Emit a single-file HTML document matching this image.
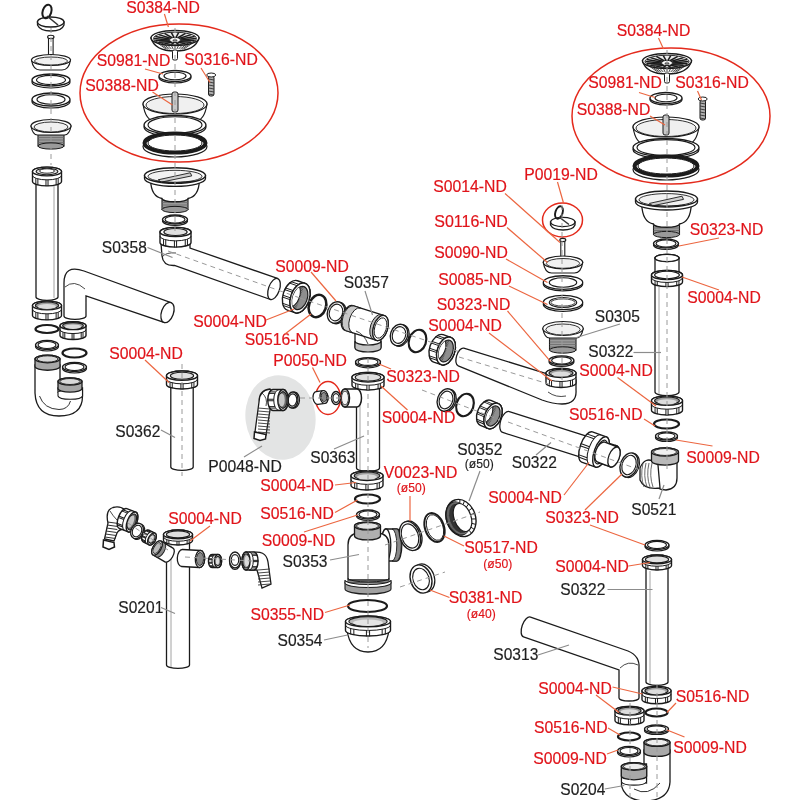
<!DOCTYPE html>
<html><head><meta charset="utf-8"><style>
html,body{margin:0;padding:0;background:#fff;}
svg{display:block;font-family:"Liberation Sans",sans-serif;will-change:transform;}
</style></head><body>
<svg width="800" height="800" viewBox="0 0 800 800">
<rect width="800" height="800" fill="#fff"/>
<ellipse cx="280.5" cy="417.5" rx="35" ry="42.5" fill="#e3e4e4" transform="rotate(-8 280.5 417.5)"/>
<path d="M37.5,22 L37.5,25 Q40,31 51,31 Q62,31 64,25 L64,22 Z" fill="#fff" stroke="#1b1b1b" stroke-width="1.3"/>
<ellipse cx="50.7" cy="22" rx="13.3" ry="5" fill="#fff" stroke="#1b1b1b" stroke-width="1.3"/>
<ellipse cx="47" cy="11.5" rx="4.3" ry="7" fill="none" stroke="#1b1b1b" stroke-width="2" transform="rotate(18 47 11.5)"/>
<line x1="47" y1="16" x2="58" y2="25" stroke="#333" stroke-width="1.6"/>
<rect x="48.5" y="37" width="4.6" height="24" fill="#fff" stroke="#1b1b1b" stroke-width="1.1"/>
<ellipse cx="50.8" cy="37" rx="3.2" ry="1.7" fill="#fff" stroke="#1b1b1b" stroke-width="1.1"/>
<path d="M31.5,60 Q33.06,70 40,70 L62,70 Q68.94,70 70.5,60 Z" fill="#fff" stroke="#1b1b1b" stroke-width="1.2"/>
<ellipse cx="51" cy="60" rx="19.5" ry="5.5" fill="#fff" stroke="#1b1b1b" stroke-width="1.2"/>
<ellipse cx="51" cy="61" rx="16.5" ry="4" fill="#f0f0f0" stroke="#1b1b1b" stroke-width="0.9"/>
<ellipse cx="51" cy="82" rx="19" ry="6" fill="#fff" stroke="#1b1b1b" stroke-width="1.215"/>
<ellipse cx="51" cy="80" rx="19" ry="6" fill="#fff" stroke="#1b1b1b" stroke-width="1.35"/>
<ellipse cx="51" cy="80" rx="14.5" ry="4.58" fill="#fff" stroke="#1b1b1b" stroke-width="1.1475"/>
<ellipse cx="51" cy="101.5" rx="19" ry="6.5" fill="#fff" stroke="#1b1b1b" stroke-width="1.215"/>
<ellipse cx="51" cy="99.5" rx="19" ry="6.5" fill="#fff" stroke="#1b1b1b" stroke-width="1.35"/>
<ellipse cx="51" cy="99.5" rx="14" ry="4.79" fill="#fff" stroke="#1b1b1b" stroke-width="1.1475"/>
<rect x="38" y="130" width="26" height="16" fill="#9a9a9a" stroke="#1b1b1b" stroke-width="1.1"/>
<line x1="38" y1="132.5" x2="64" y2="132.5" stroke="#666" stroke-width="0.7"/>
<line x1="38" y1="135" x2="64" y2="135" stroke="#666" stroke-width="0.7"/>
<line x1="38" y1="137.5" x2="64" y2="137.5" stroke="#666" stroke-width="0.7"/>
<line x1="38" y1="140" x2="64" y2="140" stroke="#666" stroke-width="0.7"/>
<line x1="38" y1="142.5" x2="64" y2="142.5" stroke="#666" stroke-width="0.7"/>
<line x1="38" y1="145" x2="64" y2="145" stroke="#666" stroke-width="0.7"/>
<ellipse cx="51" cy="146" rx="13" ry="3.12" fill="#9a9a9a" stroke="#1b1b1b" stroke-width="1"/>
<path d="M31,126 Q32.6,135 37.5,135 L64.5,135 Q69.4,135 71,126 Z" fill="#fff" stroke="#1b1b1b" stroke-width="1.2"/>
<ellipse cx="51" cy="126" rx="20" ry="6.5" fill="#fff" stroke="#1b1b1b" stroke-width="1.2"/>
<ellipse cx="51" cy="127" rx="17" ry="5" fill="#f0f0f0" stroke="#1b1b1b" stroke-width="0.9"/>
<g transform="translate(47 172) rotate(90)"><path d="M0,-11 L125,-11 A3.3,11 0 0 1 125,11 L0,11 A3.3,11 0 0 1 0,-11 Z" fill="#fff" stroke="#1b1b1b" stroke-width="1.3"/><ellipse cx="0" cy="0" rx="3.3" ry="11" fill="#fff" stroke="#1b1b1b" stroke-width="1.3"/></g>
<line x1="54" y1="186" x2="54" y2="298" stroke="#8a8a8a" stroke-width="0.8"/>
<g transform="translate(47 171.5) rotate(90)"><path d="M0,-14.5 L10,-14.5 A4.35,14.5 0 0 1 10,14.5 L0,14.5 A4.35,14.5 0 0 1 0,-14.5 Z" fill="#fff" stroke="#1b1b1b" stroke-width="1.4"/><path d="M4,-14.5 A4.35,14.5 0 0 1 4,14.5" fill="none" stroke="#1b1b1b" stroke-width="1"/><line x1="6.78" y1="-11.17" x2="13.08" y2="-11.17" stroke="#1b1b1b" stroke-width="1"/><line x1="7.38" y1="-9.13" x2="13.68" y2="-9.13" stroke="#1b1b1b" stroke-width="1"/><line x1="8.34" y1="-1.02" x2="14.64" y2="-1.02" stroke="#1b1b1b" stroke-width="1"/><line x1="8.34" y1="1.02" x2="14.64" y2="1.02" stroke="#1b1b1b" stroke-width="1"/><line x1="7.38" y1="9.13" x2="13.68" y2="9.13" stroke="#1b1b1b" stroke-width="1"/><line x1="6.78" y1="11.17" x2="13.08" y2="11.17" stroke="#1b1b1b" stroke-width="1"/><ellipse cx="0" cy="0" rx="4.35" ry="14.5" fill="#fff" stroke="#1b1b1b" stroke-width="1.4"/><ellipse cx="0" cy="0" rx="3.26" ry="10.88" fill="#e0e0e0" stroke="#1b1b1b" stroke-width="1.1"/></g>
<ellipse cx="47" cy="171" rx="7.5" ry="2.2" fill="#fff" stroke="#1b1b1b" stroke-width="0.9"/>
<path d="M64,283 L64,316 A11,3.4 0 0 0 86,316 L86,296 L164,322.4 L171,302.6 L84,271 Q64,264 64,283 Z" fill="#fff" stroke="#1b1b1b" stroke-width="1.3"/>
<ellipse cx="167.5" cy="312.5" rx="6" ry="10.5" fill="#fff" stroke="#1b1b1b" stroke-width="1.3" transform="rotate(19.5 167.5 312.5)"/>
<path d="M65,287 Q74,279 85,289" fill="none" stroke="#1b1b1b" stroke-width="0.8"/>
<g transform="translate(47 305.5) rotate(90)"><path d="M0,-14.5 L10,-14.5 A4.35,14.5 0 0 1 10,14.5 L0,14.5 A4.35,14.5 0 0 1 0,-14.5 Z" fill="#fff" stroke="#1b1b1b" stroke-width="1.4"/><path d="M4,-14.5 A4.35,14.5 0 0 1 4,14.5" fill="none" stroke="#1b1b1b" stroke-width="1"/><line x1="6.78" y1="-11.17" x2="13.08" y2="-11.17" stroke="#1b1b1b" stroke-width="1"/><line x1="7.38" y1="-9.13" x2="13.68" y2="-9.13" stroke="#1b1b1b" stroke-width="1"/><line x1="8.34" y1="-1.02" x2="14.64" y2="-1.02" stroke="#1b1b1b" stroke-width="1"/><line x1="8.34" y1="1.02" x2="14.64" y2="1.02" stroke="#1b1b1b" stroke-width="1"/><line x1="7.38" y1="9.13" x2="13.68" y2="9.13" stroke="#1b1b1b" stroke-width="1"/><line x1="6.78" y1="11.17" x2="13.08" y2="11.17" stroke="#1b1b1b" stroke-width="1"/><ellipse cx="0" cy="0" rx="4.35" ry="14.5" fill="#fff" stroke="#1b1b1b" stroke-width="1.4"/><ellipse cx="0" cy="0" rx="3.48" ry="11.6" fill="#9d9d9d" stroke="#1b1b1b" stroke-width="1.1"/><ellipse cx="1.04" cy="0" rx="2.51" ry="9.05" fill="#dcdcdc"/></g>
<ellipse cx="47" cy="329" rx="11.5" ry="4" fill="none" stroke="#1b1b1b" stroke-width="2.2"/>
<g transform="translate(73 325.7) rotate(90)"><path d="M0,-13 L9.9,-13 A3.9,13 0 0 1 9.9,13 L0,13 A3.9,13 0 0 1 0,-13 Z" fill="#fff" stroke="#1b1b1b" stroke-width="1.4"/><path d="M3.96,-13 A3.9,13 0 0 1 3.96,13" fill="none" stroke="#1b1b1b" stroke-width="1"/><line x1="6.45" y1="-10.01" x2="12.69" y2="-10.01" stroke="#1b1b1b" stroke-width="1"/><line x1="6.99" y1="-8.19" x2="13.23" y2="-8.19" stroke="#1b1b1b" stroke-width="1"/><line x1="7.85" y1="-0.91" x2="14.09" y2="-0.91" stroke="#1b1b1b" stroke-width="1"/><line x1="7.85" y1="0.91" x2="14.09" y2="0.91" stroke="#1b1b1b" stroke-width="1"/><line x1="6.99" y1="8.19" x2="13.23" y2="8.19" stroke="#1b1b1b" stroke-width="1"/><line x1="6.45" y1="10.01" x2="12.69" y2="10.01" stroke="#1b1b1b" stroke-width="1"/><ellipse cx="0" cy="0" rx="3.9" ry="13" fill="#fff" stroke="#1b1b1b" stroke-width="1.4"/><ellipse cx="0" cy="0" rx="3.12" ry="10.4" fill="#9d9d9d" stroke="#1b1b1b" stroke-width="1.1"/><ellipse cx="0.94" cy="0" rx="2.25" ry="8.11" fill="#dcdcdc"/></g>
<ellipse cx="47" cy="346.5" rx="11.5" ry="4.5" fill="#fff" stroke="#1b1b1b" stroke-width="1.215"/>
<ellipse cx="47" cy="345" rx="11.5" ry="4.5" fill="#fff" stroke="#1b1b1b" stroke-width="1.35"/>
<ellipse cx="47" cy="345" rx="9" ry="3.52" fill="#fff" stroke="#1b1b1b" stroke-width="1.1475"/>
<ellipse cx="74.5" cy="353" rx="12" ry="4.5" fill="none" stroke="#1b1b1b" stroke-width="2.2"/>
<ellipse cx="74.5" cy="368.5" rx="12" ry="4.5" fill="#fff" stroke="#1b1b1b" stroke-width="1.215"/>
<ellipse cx="74.5" cy="367" rx="12" ry="4.5" fill="#fff" stroke="#1b1b1b" stroke-width="1.35"/>
<ellipse cx="74.5" cy="367" rx="9.5" ry="3.56" fill="#fff" stroke="#1b1b1b" stroke-width="1.1475"/>
<path d="M35,365 L35,393 Q36,416 59,416 Q82.5,416 82.5,396 L82.5,388 L58,388 L58,392 L60,392 L60,365 Z" fill="#fff" stroke="#1b1b1b" stroke-width="1.3"/>
<path d="M39.5,396 Q44,409 59,409.5 Q68,409.5 70.5,401" fill="none" stroke="#1b1b1b" stroke-width="0.9"/>
<path d="M58,392 L58,396 A12.3,3.6 0 0 0 82.5,396 L82.5,390" fill="#fff" stroke="#1b1b1b" stroke-width="1.1"/>
<g transform="translate(47.5 359) rotate(90)"><path d="M0,-12.5 L7.5,-12.5 A3.75,12.5 0 0 1 7.5,12.5 L0,12.5 A3.75,12.5 0 0 1 0,-12.5 Z" fill="#a8a8a8" stroke="#1b1b1b" stroke-width="1.3"/><ellipse cx="0" cy="0" rx="3.75" ry="12.5" fill="#a8a8a8" stroke="#1b1b1b" stroke-width="1.3"/><ellipse cx="0" cy="0" rx="3.15" ry="10.5" fill="#d8d8d8" stroke="#1b1b1b" stroke-width="0.9"/></g>
<g transform="translate(70 381.5) rotate(90)"><path d="M0,-12 L7,-12 A3.6,12 0 0 1 7,12 L0,12 A3.6,12 0 0 1 0,-12 Z" fill="#a8a8a8" stroke="#1b1b1b" stroke-width="1.3"/><ellipse cx="0" cy="0" rx="3.6" ry="12" fill="#a8a8a8" stroke="#1b1b1b" stroke-width="1.3"/><ellipse cx="0" cy="0" rx="3" ry="10" fill="#d8d8d8" stroke="#1b1b1b" stroke-width="0.9"/></g>
<g transform="translate(182 378) rotate(90)"><path d="M0,-11.2 L89,-11.2 A3.36,11.2 0 0 1 89,11.2 L0,11.2 A3.36,11.2 0 0 1 0,-11.2 Z" fill="#fff" stroke="#1b1b1b" stroke-width="1.3"/><ellipse cx="0" cy="0" rx="3.36" ry="11.2" fill="#fff" stroke="#1b1b1b" stroke-width="1.3"/></g>
<g transform="translate(182 375.7) rotate(90)"><path d="M0,-15.5 L8.7,-15.5 A4.65,15.5 0 0 1 8.7,15.5 L0,15.5 A4.65,15.5 0 0 1 0,-15.5 Z" fill="#fff" stroke="#1b1b1b" stroke-width="1.4"/><path d="M3.48,-15.5 A4.65,15.5 0 0 1 3.48,15.5" fill="none" stroke="#1b1b1b" stroke-width="1"/><line x1="6.45" y1="-11.94" x2="11.97" y2="-11.94" stroke="#1b1b1b" stroke-width="1"/><line x1="7.09" y1="-9.76" x2="12.61" y2="-9.76" stroke="#1b1b1b" stroke-width="1"/><line x1="8.12" y1="-1.09" x2="13.64" y2="-1.09" stroke="#1b1b1b" stroke-width="1"/><line x1="8.12" y1="1.09" x2="13.64" y2="1.09" stroke="#1b1b1b" stroke-width="1"/><line x1="7.09" y1="9.76" x2="12.61" y2="9.76" stroke="#1b1b1b" stroke-width="1"/><line x1="6.45" y1="11.94" x2="11.97" y2="11.94" stroke="#1b1b1b" stroke-width="1"/><ellipse cx="0" cy="0" rx="4.65" ry="15.5" fill="#fff" stroke="#1b1b1b" stroke-width="1.4"/><ellipse cx="0" cy="0" rx="3.49" ry="11.62" fill="#e0e0e0" stroke="#1b1b1b" stroke-width="1.1"/></g>
<ellipse cx="179" cy="93" rx="99" ry="69" fill="none" stroke="#e42a1c" stroke-width="1.5"/>
<path d="M151,38 Q154.6,51 175,51 Q195.4,51 199,38 Z" fill="#fff" stroke="#1b1b1b" stroke-width="1.3"/>
<line x1="156" y1="41.94" x2="166" y2="49.05" stroke="#333" stroke-width="0.9"/>
<line x1="159.8" y1="43.31" x2="167.8" y2="49.05" stroke="#333" stroke-width="0.9"/>
<line x1="163.6" y1="44.17" x2="169.6" y2="49.05" stroke="#333" stroke-width="0.9"/>
<line x1="167.4" y1="44.72" x2="171.4" y2="49.05" stroke="#333" stroke-width="0.9"/>
<line x1="171.2" y1="45.03" x2="173.2" y2="49.05" stroke="#333" stroke-width="0.9"/>
<line x1="175" y1="45.12" x2="175" y2="49.05" stroke="#333" stroke-width="0.9"/>
<line x1="178.8" y1="45.03" x2="176.8" y2="49.05" stroke="#333" stroke-width="0.9"/>
<line x1="182.6" y1="44.72" x2="178.6" y2="49.05" stroke="#333" stroke-width="0.9"/>
<line x1="186.4" y1="44.17" x2="180.4" y2="49.05" stroke="#333" stroke-width="0.9"/>
<line x1="190.2" y1="43.31" x2="182.2" y2="49.05" stroke="#333" stroke-width="0.9"/>
<line x1="194" y1="41.94" x2="184" y2="49.05" stroke="#333" stroke-width="0.9"/>
<ellipse cx="175" cy="38" rx="24" ry="7.5" fill="#fff" stroke="#1b1b1b" stroke-width="1.4"/>
<ellipse cx="175" cy="38.5" rx="21.5" ry="6.3" fill="#ececec" stroke="#1b1b1b" stroke-width="0.9"/>
<line x1="196" y1="38.5" x2="181" y2="40" stroke="#1b1b1b" stroke-width="1.5"/>
<line x1="194.73" y1="40.55" x2="180.64" y2="40.89" stroke="#1b1b1b" stroke-width="1.5"/>
<line x1="191.09" y1="42.36" x2="179.6" y2="41.67" stroke="#1b1b1b" stroke-width="1.5"/>
<line x1="185.5" y1="43.7" x2="178" y2="42.25" stroke="#1b1b1b" stroke-width="1.5"/>
<line x1="178.65" y1="44.41" x2="176.04" y2="42.56" stroke="#1b1b1b" stroke-width="1.5"/>
<line x1="171.35" y1="44.41" x2="173.96" y2="42.56" stroke="#1b1b1b" stroke-width="1.5"/>
<line x1="164.5" y1="43.7" x2="172" y2="42.25" stroke="#1b1b1b" stroke-width="1.5"/>
<line x1="158.91" y1="42.36" x2="170.4" y2="41.67" stroke="#1b1b1b" stroke-width="1.5"/>
<line x1="155.27" y1="40.55" x2="169.36" y2="40.89" stroke="#1b1b1b" stroke-width="1.5"/>
<line x1="154" y1="38.5" x2="169" y2="40" stroke="#1b1b1b" stroke-width="1.5"/>
<line x1="155.27" y1="36.45" x2="169.36" y2="39.11" stroke="#1b1b1b" stroke-width="1.5"/>
<line x1="158.91" y1="34.64" x2="170.4" y2="38.33" stroke="#1b1b1b" stroke-width="1.5"/>
<line x1="164.5" y1="33.3" x2="172" y2="37.75" stroke="#1b1b1b" stroke-width="1.5"/>
<line x1="171.35" y1="32.59" x2="173.96" y2="37.44" stroke="#1b1b1b" stroke-width="1.5"/>
<line x1="178.65" y1="32.59" x2="176.04" y2="37.44" stroke="#1b1b1b" stroke-width="1.5"/>
<line x1="185.5" y1="33.3" x2="178" y2="37.75" stroke="#1b1b1b" stroke-width="1.5"/>
<line x1="191.09" y1="34.64" x2="179.6" y2="38.33" stroke="#1b1b1b" stroke-width="1.5"/>
<line x1="194.73" y1="36.45" x2="180.64" y2="39.11" stroke="#1b1b1b" stroke-width="1.5"/>
<ellipse cx="175" cy="40" rx="5.5" ry="2.6" fill="#fff" stroke="#1b1b1b" stroke-width="1"/>
<ellipse cx="175" cy="40.5" rx="2.5" ry="1.2" fill="#555"/>
<rect x="172.5" y="50" width="5" height="10" rx="1.5" fill="#fff" stroke="#1b1b1b" stroke-width="1"/>
<ellipse cx="175" cy="77.5" rx="16" ry="5.5" fill="#fff" stroke="#1b1b1b" stroke-width="1.215"/>
<ellipse cx="175" cy="76" rx="16" ry="5.5" fill="#fff" stroke="#1b1b1b" stroke-width="1.35"/>
<ellipse cx="175" cy="76" rx="11" ry="3.78" fill="#fff" stroke="#1b1b1b" stroke-width="1.1475"/>
<rect x="208.5" y="76" width="5.5" height="20" rx="2" fill="#b0b0b0" stroke="#1b1b1b" stroke-width="1"/>
<line x1="208.5" y1="79" x2="214" y2="80" stroke="#333" stroke-width="0.9"/>
<line x1="208.5" y1="82" x2="214" y2="83" stroke="#333" stroke-width="0.9"/>
<line x1="208.5" y1="85" x2="214" y2="86" stroke="#333" stroke-width="0.9"/>
<line x1="208.5" y1="88" x2="214" y2="89" stroke="#333" stroke-width="0.9"/>
<line x1="208.5" y1="91" x2="214" y2="92" stroke="#333" stroke-width="0.9"/>
<line x1="208.5" y1="94" x2="214" y2="95" stroke="#333" stroke-width="0.9"/>
<ellipse cx="211.2" cy="75" rx="4.5" ry="2" fill="#fff" stroke="#1b1b1b" stroke-width="1"/>
<path d="M143,104 Q145.56,121 155,121 L195,121 Q204.44,121 207,104 Z" fill="#fff" stroke="#1b1b1b" stroke-width="1.2"/>
<ellipse cx="175" cy="104" rx="32" ry="10" fill="#fff" stroke="#1b1b1b" stroke-width="1.2"/>
<ellipse cx="175" cy="105" rx="29" ry="8.5" fill="#f0f0f0" stroke="#1b1b1b" stroke-width="0.9"/>
<rect x="172" y="92" width="6" height="20" rx="2" fill="#c8c8c8" stroke="#1b1b1b" stroke-width="1"/>
<ellipse cx="175" cy="127" rx="31" ry="9.5" fill="#fff" stroke="#1b1b1b" stroke-width="1.215"/>
<ellipse cx="175" cy="125" rx="31" ry="9.5" fill="#fff" stroke="#1b1b1b" stroke-width="1.35"/>
<ellipse cx="175" cy="125" rx="27" ry="8.27" fill="#fff" stroke="#1b1b1b" stroke-width="1.1475"/>
<ellipse cx="175" cy="146.5" rx="32" ry="10.5" fill="#fff" stroke="#1b1b1b" stroke-width="1.2"/>
<ellipse cx="175" cy="143" rx="30.5" ry="9.5" fill="none" stroke="#1b1b1b" stroke-width="4"/>
<ellipse cx="175" cy="143" rx="27" ry="8" fill="#fff" stroke="#1b1b1b" stroke-width="1"/>
<rect x="162" y="197.5" width="26" height="12" fill="#9a9a9a" stroke="#1b1b1b" stroke-width="1.1"/>
<line x1="162" y1="200" x2="188" y2="200" stroke="#666" stroke-width="0.7"/>
<line x1="162" y1="202.5" x2="188" y2="202.5" stroke="#666" stroke-width="0.7"/>
<line x1="162" y1="205" x2="188" y2="205" stroke="#666" stroke-width="0.7"/>
<line x1="162" y1="207.5" x2="188" y2="207.5" stroke="#666" stroke-width="0.7"/>
<ellipse cx="175" cy="209.5" rx="13" ry="3.12" fill="#9a9a9a" stroke="#1b1b1b" stroke-width="1"/>
<path d="M150.6,180.5 Q151.21,196.5 162,198.5 A13,3.25 0 0 0 188,198.5 Q198.79,196.5 199.4,180.5 Z" fill="#fff" stroke="#1b1b1b" stroke-width="1.3"/>
<path d="M144.5,175.5 L144.5,178.5 A30.5,7.8 0 0 0 205.5,178.5 L205.5,175.5 Z" fill="#fff" stroke="#1b1b1b" stroke-width="1.3"/>
<ellipse cx="175" cy="175.5" rx="30.5" ry="7.8" fill="#fff" stroke="#1b1b1b" stroke-width="1.4"/>
<ellipse cx="175" cy="176.3" rx="27" ry="6" fill="#f2f2f2" stroke="#1b1b1b" stroke-width="0.9"/>
<path d="M158.22,179.79 L190.25,172.77 L191.78,175.89 L161.28,182.13 Z" fill="#cfcfcf" stroke="#1b1b1b" stroke-width="0.9"/>
<path d="M156.7,181.35 Q175,184.08 193.3,181.35" fill="none" stroke="#1b1b1b" stroke-width="0.9"/>
<ellipse cx="175" cy="221" rx="12.5" ry="4.5" fill="#fff" stroke="#1b1b1b" stroke-width="1.215"/>
<ellipse cx="175" cy="219.5" rx="12.5" ry="4.5" fill="#fff" stroke="#1b1b1b" stroke-width="1.35"/>
<ellipse cx="175" cy="219.5" rx="10" ry="3.6" fill="#fff" stroke="#1b1b1b" stroke-width="1.1475"/>
<path d="M161,243 L162,256 Q163,266 174.5,265.5 L270.5,299.5 L277.5,278.5 L190,248 L190,243 Z" fill="#fff" stroke="#1b1b1b" stroke-width="1.3"/>
<ellipse cx="274" cy="289" rx="5.5" ry="11" fill="#fff" stroke="#1b1b1b" stroke-width="1.3" transform="rotate(19.5 274 289)"/>
<path d="M162,257 Q166,252 176,253" fill="none" stroke="#1b1b1b" stroke-width="0.8"/>
<g transform="translate(175.5 232) rotate(90)"><path d="M0,-15.5 L10.5,-15.5 A4.65,15.5 0 0 1 10.5,15.5 L0,15.5 A4.65,15.5 0 0 1 0,-15.5 Z" fill="#fff" stroke="#1b1b1b" stroke-width="1.4"/><path d="M4.2,-15.5 A4.65,15.5 0 0 1 4.2,15.5" fill="none" stroke="#1b1b1b" stroke-width="1"/><line x1="7.17" y1="-11.94" x2="13.77" y2="-11.94" stroke="#1b1b1b" stroke-width="1"/><line x1="7.81" y1="-9.76" x2="14.41" y2="-9.76" stroke="#1b1b1b" stroke-width="1"/><line x1="8.84" y1="-1.09" x2="15.44" y2="-1.09" stroke="#1b1b1b" stroke-width="1"/><line x1="8.84" y1="1.09" x2="15.44" y2="1.09" stroke="#1b1b1b" stroke-width="1"/><line x1="7.81" y1="9.76" x2="14.41" y2="9.76" stroke="#1b1b1b" stroke-width="1"/><line x1="7.17" y1="11.94" x2="13.77" y2="11.94" stroke="#1b1b1b" stroke-width="1"/><ellipse cx="0" cy="0" rx="4.65" ry="15.5" fill="#fff" stroke="#1b1b1b" stroke-width="1.4"/><ellipse cx="0" cy="0" rx="3.49" ry="11.62" fill="#e0e0e0" stroke="#1b1b1b" stroke-width="1.1"/></g>
<g transform="translate(300 298) rotate(199)"><path d="M0,-15.5 L8,-15.5 A9.3,15.5 0 0 1 8,15.5 L0,15.5 A9.3,15.5 0 0 1 0,-15.5 Z" fill="#fff" stroke="#1b1b1b" stroke-width="1.4"/><clipPath id="cp1"><ellipse cx="0" cy="0" rx="7.25" ry="12.09"/></clipPath><ellipse cx="0" cy="0" rx="9.3" ry="15.5" fill="#fff" stroke="#1b1b1b" stroke-width="1.4"/><line x1="5.45" y1="-12.56" x2="13.75" y2="-12.56" stroke="#1b1b1b" stroke-width="0.9"/><line x1="6.73" y1="-10.69" x2="15.03" y2="-10.69" stroke="#1b1b1b" stroke-width="0.9"/><line x1="8.84" y1="-4.8" x2="17.14" y2="-4.8" stroke="#1b1b1b" stroke-width="0.9"/><line x1="9.13" y1="-2.94" x2="17.43" y2="-2.94" stroke="#1b1b1b" stroke-width="0.9"/><line x1="9.13" y1="2.94" x2="17.43" y2="2.94" stroke="#1b1b1b" stroke-width="0.9"/><line x1="8.84" y1="4.8" x2="17.14" y2="4.8" stroke="#1b1b1b" stroke-width="0.9"/><line x1="6.73" y1="10.69" x2="15.03" y2="10.69" stroke="#1b1b1b" stroke-width="0.9"/><line x1="5.45" y1="12.56" x2="13.75" y2="12.56" stroke="#1b1b1b" stroke-width="0.9"/><ellipse cx="0" cy="0" rx="9.3" ry="15.5" fill="#fff" stroke="#1b1b1b" stroke-width="1.4"/><ellipse cx="0" cy="0" rx="7.25" ry="12.09" fill="#8e8e8e" stroke="#1b1b1b" stroke-width="1.2"/><g clip-path="url(#cp1)"><line x1="0" y1="-14.4" x2="17.3" y2="-10.4" stroke="#444" stroke-width="0.7"/><line x1="0" y1="-12.85" x2="17.3" y2="-8.85" stroke="#444" stroke-width="0.7"/><line x1="0" y1="-11.3" x2="17.3" y2="-7.3" stroke="#444" stroke-width="0.7"/><line x1="0" y1="-9.75" x2="17.3" y2="-5.75" stroke="#444" stroke-width="0.7"/><line x1="0" y1="-8.2" x2="17.3" y2="-4.2" stroke="#444" stroke-width="0.7"/><line x1="0" y1="-6.65" x2="17.3" y2="-2.65" stroke="#444" stroke-width="0.7"/><line x1="0" y1="-5.1" x2="17.3" y2="-1.1" stroke="#444" stroke-width="0.7"/><line x1="0" y1="-3.55" x2="17.3" y2="0.45" stroke="#444" stroke-width="0.7"/><line x1="0" y1="-2" x2="17.3" y2="2" stroke="#444" stroke-width="0.7"/><line x1="0" y1="-0.45" x2="17.3" y2="3.55" stroke="#444" stroke-width="0.7"/><line x1="0" y1="1.1" x2="17.3" y2="5.1" stroke="#444" stroke-width="0.7"/><line x1="0" y1="2.65" x2="17.3" y2="6.65" stroke="#444" stroke-width="0.7"/><line x1="0" y1="4.2" x2="17.3" y2="8.2" stroke="#444" stroke-width="0.7"/><line x1="0" y1="5.75" x2="17.3" y2="9.75" stroke="#444" stroke-width="0.7"/><line x1="0" y1="7.3" x2="17.3" y2="11.3" stroke="#444" stroke-width="0.7"/><line x1="0" y1="8.85" x2="17.3" y2="12.85" stroke="#444" stroke-width="0.7"/><line x1="0" y1="10.4" x2="17.3" y2="14.4" stroke="#444" stroke-width="0.7"/><ellipse cx="8" cy="0" rx="7.25" ry="12.09" fill="#fff" stroke="#1b1b1b" stroke-width="1"/></g></g>
<ellipse cx="317.5" cy="306" rx="8.5" ry="11.5" fill="none" stroke="#1b1b1b" stroke-width="2.5" transform="rotate(19 317.5 306)"/>
<ellipse cx="337.42" cy="312.99" rx="8.5" ry="11" fill="#fff" stroke="#1b1b1b" stroke-width="1.215" transform="rotate(19 337.42 312.99)"/>
<ellipse cx="336" cy="312.5" rx="8.5" ry="11" fill="#fff" stroke="#1b1b1b" stroke-width="1.35" transform="rotate(19 336 312.5)"/>
<ellipse cx="336" cy="312.5" rx="6.57" ry="8.5" fill="#fff" stroke="#1b1b1b" stroke-width="1.1475" transform="rotate(19 336 312.5)"/>
<path d="M355,328 L355,347 A12.8,4 0 0 0 381,347 L381,333 Z" fill="#fff" stroke="#1b1b1b" stroke-width="1.3"/>
<path d="M355,341 L355,348 A12.8,4 0 0 0 381,348 L381,341 A12.8,4 0 0 1 355,341 Z" fill="#c4c4c4" stroke="#1b1b1b" stroke-width="1.1"/>
<g transform="translate(380.5 328) rotate(-162.39)"><path d="M0,-13 L33.05,-13 A7.15,13 0 0 1 33.05,13 L0,13 A7.15,13 0 0 1 0,-13 Z" fill="#fff" stroke="#1b1b1b" stroke-width="1.3"/><path d="M0,-13 L3,-13 A7.15,13 0 0 1 3,13 L0,13 A7.15,13 0 0 0 0,-13 Z" fill="#bbb" stroke="#1b1b1b" stroke-width="0.9"/><path d="M25.05,-13 L32.05,-13 A7.15,13 0 0 1 32.05,13 L25.05,13 A7.15,13 0 0 0 25.05,-13 Z" fill="#c8c8c8" stroke="#1b1b1b" stroke-width="0.9"/><ellipse cx="0" cy="0" rx="7.15" ry="13" fill="#fff" stroke="#1b1b1b" stroke-width="1.3"/><ellipse cx="0" cy="0" rx="5.78" ry="10.5" fill="#fff" stroke="#1b1b1b" stroke-width="0.9"/></g>
<path d="M356,331 Q364,334 368,344" fill="none" stroke="#1b1b1b" stroke-width="0.8"/>
<ellipse cx="400.42" cy="335.49" rx="8.5" ry="11" fill="#fff" stroke="#1b1b1b" stroke-width="1.215" transform="rotate(19 400.42 335.49)"/>
<ellipse cx="399" cy="335" rx="8.5" ry="11" fill="#fff" stroke="#1b1b1b" stroke-width="1.35" transform="rotate(19 399 335)"/>
<ellipse cx="399" cy="335" rx="6.57" ry="8.5" fill="#fff" stroke="#1b1b1b" stroke-width="1.1475" transform="rotate(19 399 335)"/>
<ellipse cx="417.5" cy="341" rx="8.5" ry="11.5" fill="none" stroke="#1b1b1b" stroke-width="2.2" transform="rotate(19 417.5 341)"/>
<g transform="translate(446 351) rotate(199)"><path d="M0,-14.5 L8,-14.5 A8.7,14.5 0 0 1 8,14.5 L0,14.5 A8.7,14.5 0 0 1 0,-14.5 Z" fill="#fff" stroke="#1b1b1b" stroke-width="1.4"/><clipPath id="cp2"><ellipse cx="0" cy="0" rx="6.79" ry="11.31"/></clipPath><ellipse cx="0" cy="0" rx="8.7" ry="14.5" fill="#fff" stroke="#1b1b1b" stroke-width="1.4"/><line x1="5.1" y1="-11.75" x2="13.4" y2="-11.75" stroke="#1b1b1b" stroke-width="0.9"/><line x1="6.3" y1="-10" x2="14.6" y2="-10" stroke="#1b1b1b" stroke-width="0.9"/><line x1="8.27" y1="-4.5" x2="16.57" y2="-4.5" stroke="#1b1b1b" stroke-width="0.9"/><line x1="8.54" y1="-2.75" x2="16.84" y2="-2.75" stroke="#1b1b1b" stroke-width="0.9"/><line x1="8.54" y1="2.75" x2="16.84" y2="2.75" stroke="#1b1b1b" stroke-width="0.9"/><line x1="8.27" y1="4.5" x2="16.57" y2="4.5" stroke="#1b1b1b" stroke-width="0.9"/><line x1="6.3" y1="10" x2="14.6" y2="10" stroke="#1b1b1b" stroke-width="0.9"/><line x1="5.1" y1="11.75" x2="13.4" y2="11.75" stroke="#1b1b1b" stroke-width="0.9"/><ellipse cx="0" cy="0" rx="8.7" ry="14.5" fill="#fff" stroke="#1b1b1b" stroke-width="1.4"/><ellipse cx="0" cy="0" rx="6.79" ry="11.31" fill="#8e8e8e" stroke="#1b1b1b" stroke-width="1.2"/><g clip-path="url(#cp2)"><line x1="0" y1="-13.6" x2="16.7" y2="-9.6" stroke="#444" stroke-width="0.7"/><line x1="0" y1="-12.15" x2="16.7" y2="-8.15" stroke="#444" stroke-width="0.7"/><line x1="0" y1="-10.7" x2="16.7" y2="-6.7" stroke="#444" stroke-width="0.7"/><line x1="0" y1="-9.25" x2="16.7" y2="-5.25" stroke="#444" stroke-width="0.7"/><line x1="0" y1="-7.8" x2="16.7" y2="-3.8" stroke="#444" stroke-width="0.7"/><line x1="0" y1="-6.35" x2="16.7" y2="-2.35" stroke="#444" stroke-width="0.7"/><line x1="0" y1="-4.9" x2="16.7" y2="-0.9" stroke="#444" stroke-width="0.7"/><line x1="0" y1="-3.45" x2="16.7" y2="0.55" stroke="#444" stroke-width="0.7"/><line x1="0" y1="-2" x2="16.7" y2="2" stroke="#444" stroke-width="0.7"/><line x1="0" y1="-0.55" x2="16.7" y2="3.45" stroke="#444" stroke-width="0.7"/><line x1="0" y1="0.9" x2="16.7" y2="4.9" stroke="#444" stroke-width="0.7"/><line x1="0" y1="2.35" x2="16.7" y2="6.35" stroke="#444" stroke-width="0.7"/><line x1="0" y1="3.8" x2="16.7" y2="7.8" stroke="#444" stroke-width="0.7"/><line x1="0" y1="5.25" x2="16.7" y2="9.25" stroke="#444" stroke-width="0.7"/><line x1="0" y1="6.7" x2="16.7" y2="10.7" stroke="#444" stroke-width="0.7"/><line x1="0" y1="8.15" x2="16.7" y2="12.15" stroke="#444" stroke-width="0.7"/><line x1="0" y1="9.6" x2="16.7" y2="13.6" stroke="#444" stroke-width="0.7"/><ellipse cx="8" cy="0" rx="6.79" ry="11.31" fill="#fff" stroke="#1b1b1b" stroke-width="1"/></g></g>
<ellipse cx="368" cy="363.5" rx="12.5" ry="4.3" fill="#fff" stroke="#1b1b1b" stroke-width="1.215"/>
<ellipse cx="368" cy="362" rx="12.5" ry="4.3" fill="#fff" stroke="#1b1b1b" stroke-width="1.35"/>
<ellipse cx="368" cy="362" rx="10" ry="3.44" fill="#fff" stroke="#1b1b1b" stroke-width="1.1475"/>
<path d="M463.8,348.2 L548,374 L576,380 L576,390 Q577,404 562,404 Q553,404 542,400 L458.2,365.8 A4.5,9.2 17.6 0 1 463.8,348.2 Z" fill="#fff" stroke="#1b1b1b" stroke-width="1.3"/>
<path d="M548,392 Q556,398 566,396" fill="none" stroke="#1b1b1b" stroke-width="0.8"/>
<g transform="translate(561 373) rotate(90)"><path d="M0,-15 L10,-15 A4.5,15 0 0 1 10,15 L0,15 A4.5,15 0 0 1 0,-15 Z" fill="#fff" stroke="#1b1b1b" stroke-width="1.4"/><path d="M4,-15 A4.5,15 0 0 1 4,15" fill="none" stroke="#1b1b1b" stroke-width="1"/><line x1="6.87" y1="-11.55" x2="13.17" y2="-11.55" stroke="#1b1b1b" stroke-width="1"/><line x1="7.49" y1="-9.45" x2="13.79" y2="-9.45" stroke="#1b1b1b" stroke-width="1"/><line x1="8.49" y1="-1.05" x2="14.79" y2="-1.05" stroke="#1b1b1b" stroke-width="1"/><line x1="8.49" y1="1.05" x2="14.79" y2="1.05" stroke="#1b1b1b" stroke-width="1"/><line x1="7.49" y1="9.45" x2="13.79" y2="9.45" stroke="#1b1b1b" stroke-width="1"/><line x1="6.87" y1="11.55" x2="13.17" y2="11.55" stroke="#1b1b1b" stroke-width="1"/><ellipse cx="0" cy="0" rx="4.5" ry="15" fill="#fff" stroke="#1b1b1b" stroke-width="1.4"/><ellipse cx="0" cy="0" rx="3.6" ry="12" fill="#9d9d9d" stroke="#1b1b1b" stroke-width="1.1"/><ellipse cx="1.08" cy="0" rx="2.59" ry="9.36" fill="#dcdcdc"/></g>
<g transform="translate(368 377) rotate(90)"><path d="M0,-11.5 L91,-11.5 A3.45,11.5 0 0 1 91,11.5 L0,11.5 A3.45,11.5 0 0 1 0,-11.5 Z" fill="#fff" stroke="#1b1b1b" stroke-width="1.3"/><ellipse cx="0" cy="0" rx="3.45" ry="11.5" fill="#fff" stroke="#1b1b1b" stroke-width="1.3"/></g>
<line x1="360" y1="390" x2="360" y2="470" stroke="#8a8a8a" stroke-width="0.8"/>
<path d="M359,392 L344,392 L344,405 L359,405 Z" fill="#fff" stroke="#1b1b1b" stroke-width="1.3"/>
<g transform="translate(368 377.3) rotate(90)"><path d="M0,-16 L7.9,-16 A4.8,16 0 0 1 7.9,16 L0,16 A4.8,16 0 0 1 0,-16 Z" fill="#fff" stroke="#1b1b1b" stroke-width="1.4"/><path d="M3.16,-16 A4.8,16 0 0 1 3.16,16" fill="none" stroke="#1b1b1b" stroke-width="1"/><line x1="6.22" y1="-12.32" x2="11.26" y2="-12.32" stroke="#1b1b1b" stroke-width="1"/><line x1="6.89" y1="-10.08" x2="11.93" y2="-10.08" stroke="#1b1b1b" stroke-width="1"/><line x1="7.95" y1="-1.12" x2="12.99" y2="-1.12" stroke="#1b1b1b" stroke-width="1"/><line x1="7.95" y1="1.12" x2="12.99" y2="1.12" stroke="#1b1b1b" stroke-width="1"/><line x1="6.89" y1="10.08" x2="11.93" y2="10.08" stroke="#1b1b1b" stroke-width="1"/><line x1="6.22" y1="12.32" x2="11.26" y2="12.32" stroke="#1b1b1b" stroke-width="1"/><ellipse cx="0" cy="0" rx="4.8" ry="16" fill="#fff" stroke="#1b1b1b" stroke-width="1.4"/><ellipse cx="0" cy="0" rx="3.84" ry="12.8" fill="#e0e0e0" stroke="#1b1b1b" stroke-width="1.1"/></g>
<g transform="translate(345 398) rotate(0)"><path d="M0,-9 L12,-9 A4.5,9 0 0 1 12,9 L0,9 A4.5,9 0 0 1 0,-9 Z" fill="#fff" stroke="#1b1b1b" stroke-width="1.5"/><ellipse cx="0" cy="0" rx="4.5" ry="9" fill="#fff" stroke="#1b1b1b" stroke-width="1.5"/><ellipse cx="0" cy="0" rx="3.5" ry="7" fill="#f4f4f4" stroke="#1b1b1b" stroke-width="0.9"/></g>
<ellipse cx="328" cy="398" rx="12.5" ry="16.5" fill="none" stroke="#e42a1c" stroke-width="1.5"/>
<g transform="translate(324 397) rotate(171.87)"><path d="M0,-6.5 L7.07,-6.5 A3.9,6.5 0 0 1 7.07,6.5 L0,6.5 A3.9,6.5 0 0 1 0,-6.5 Z" fill="#fff" stroke="#1b1b1b" stroke-width="1.3"/><ellipse cx="0" cy="0" rx="3.9" ry="6.5" fill="#fff" stroke="#1b1b1b" stroke-width="1.3"/><ellipse cx="0" cy="0" rx="2.7" ry="4.5" fill="#8a8a8a" stroke="#1b1b1b" stroke-width="0.9"/></g>
<ellipse cx="336" cy="398" rx="4.5" ry="6.5" fill="#fff" stroke="#1b1b1b" stroke-width="1.35"/>
<ellipse cx="336" cy="398" rx="3" ry="4.33" fill="#fff" stroke="#1b1b1b" stroke-width="1.1475"/>
<ellipse cx="293.99" cy="400.13" rx="5.5" ry="8" fill="#fff" stroke="#1b1b1b" stroke-width="1.215" transform="rotate(5 293.99 400.13)"/>
<ellipse cx="292.5" cy="400" rx="5.5" ry="8" fill="#fff" stroke="#1b1b1b" stroke-width="1.35" transform="rotate(5 292.5 400)"/>
<ellipse cx="292.5" cy="400" rx="4.26" ry="6.2" fill="#fff" stroke="#1b1b1b" stroke-width="1.1475" transform="rotate(5 292.5 400)"/>
<path d="M270,389 Q259,390 259,402 L255,432 L266,435 L270,410 Q272,404 278,404 Z" fill="#fff" stroke="#1b1b1b" stroke-width="1.3"/>
<line x1="258" y1="408" x2="270" y2="409" stroke="#333" stroke-width="0.9"/>
<line x1="258" y1="411" x2="270" y2="412" stroke="#333" stroke-width="0.9"/>
<line x1="258" y1="414" x2="270" y2="415" stroke="#333" stroke-width="0.9"/>
<line x1="258" y1="417" x2="270" y2="418" stroke="#333" stroke-width="0.9"/>
<line x1="258" y1="420" x2="270" y2="421" stroke="#333" stroke-width="0.9"/>
<line x1="258" y1="423" x2="270" y2="424" stroke="#333" stroke-width="0.9"/>
<line x1="258" y1="426" x2="270" y2="427" stroke="#333" stroke-width="0.9"/>
<line x1="258" y1="429" x2="270" y2="430" stroke="#333" stroke-width="0.9"/>
<line x1="258" y1="432" x2="270" y2="433" stroke="#333" stroke-width="0.9"/>
<path d="M262,393 Q268,398 266,406" fill="none" stroke="#1b1b1b" stroke-width="0.8"/>
<g transform="translate(283 400) rotate(180)"><path d="M0,-10.5 L10,-10.5 A5.25,10.5 0 0 1 10,10.5 L0,10.5 A5.25,10.5 0 0 1 0,-10.5 Z" fill="#fff" stroke="#1b1b1b" stroke-width="1.4"/><path d="M4,-10.5 A5.25,10.5 0 0 1 4,10.5" fill="none" stroke="#1b1b1b" stroke-width="1"/><line x1="7.35" y1="-8.09" x2="13.65" y2="-8.09" stroke="#1b1b1b" stroke-width="1"/><line x1="8.08" y1="-6.61" x2="14.38" y2="-6.61" stroke="#1b1b1b" stroke-width="1"/><line x1="9.24" y1="-0.74" x2="15.54" y2="-0.74" stroke="#1b1b1b" stroke-width="1"/><line x1="9.24" y1="0.74" x2="15.54" y2="0.74" stroke="#1b1b1b" stroke-width="1"/><line x1="8.08" y1="6.61" x2="14.38" y2="6.61" stroke="#1b1b1b" stroke-width="1"/><line x1="7.35" y1="8.09" x2="13.65" y2="8.09" stroke="#1b1b1b" stroke-width="1"/><ellipse cx="0" cy="0" rx="5.25" ry="10.5" fill="#fff" stroke="#1b1b1b" stroke-width="1.4"/><ellipse cx="0" cy="0" rx="4.2" ry="8.4" fill="#6a6a6a" stroke="#1b1b1b" stroke-width="1.1"/><ellipse cx="1.26" cy="0" rx="3.02" ry="6.55" fill="#c8c8c8"/></g>
<path d="M254.5,432 L266,434.5 L265.5,439 L260,440.5 L254,438.5 Z" fill="#fff" stroke="#1b1b1b" stroke-width="1.5"/>
<g transform="translate(367 475.8) rotate(90)"><path d="M0,-16 L9.4,-16 A4.8,16 0 0 1 9.4,16 L0,16 A4.8,16 0 0 1 0,-16 Z" fill="#fff" stroke="#1b1b1b" stroke-width="1.4"/><path d="M3.76,-16 A4.8,16 0 0 1 3.76,16" fill="none" stroke="#1b1b1b" stroke-width="1"/><line x1="6.82" y1="-12.32" x2="12.76" y2="-12.32" stroke="#1b1b1b" stroke-width="1"/><line x1="7.49" y1="-10.08" x2="13.43" y2="-10.08" stroke="#1b1b1b" stroke-width="1"/><line x1="8.55" y1="-1.12" x2="14.49" y2="-1.12" stroke="#1b1b1b" stroke-width="1"/><line x1="8.55" y1="1.12" x2="14.49" y2="1.12" stroke="#1b1b1b" stroke-width="1"/><line x1="7.49" y1="10.08" x2="13.43" y2="10.08" stroke="#1b1b1b" stroke-width="1"/><line x1="6.82" y1="12.32" x2="12.76" y2="12.32" stroke="#1b1b1b" stroke-width="1"/><ellipse cx="0" cy="0" rx="4.8" ry="16" fill="#fff" stroke="#1b1b1b" stroke-width="1.4"/><ellipse cx="0" cy="0" rx="3.84" ry="12.8" fill="#9d9d9d" stroke="#1b1b1b" stroke-width="1.1"/><ellipse cx="1.15" cy="0" rx="2.76" ry="9.98" fill="#dcdcdc"/></g>
<ellipse cx="367.5" cy="499" rx="12.5" ry="4.5" fill="none" stroke="#1b1b1b" stroke-width="2.2"/>
<ellipse cx="368" cy="516" rx="11.5" ry="4.5" fill="#fff" stroke="#1b1b1b" stroke-width="1.215"/>
<ellipse cx="368" cy="514.5" rx="11.5" ry="4.5" fill="#fff" stroke="#1b1b1b" stroke-width="1.35"/>
<ellipse cx="368" cy="514.5" rx="9" ry="3.52" fill="#fff" stroke="#1b1b1b" stroke-width="1.1475"/>
<g transform="translate(386 545) rotate(0)"><path d="M0,-16 L11,-16 A4.8,16 0 0 1 11,16 L0,16 A4.8,16 0 0 1 0,-16 Z" fill="#fff" stroke="#1b1b1b" stroke-width="1.3"/><path d="M6,-16 L10.5,-16 A4.8,16 0 0 1 10.5,16 L6,16 A4.8,16 0 0 0 6,-16 Z" fill="#8a8a8a" stroke="#1b1b1b" stroke-width="0.9"/><ellipse cx="0" cy="0" rx="4.8" ry="16" fill="#fff" stroke="#1b1b1b" stroke-width="1.3"/></g>
<path d="M348,545 Q348,534 358,533 L378,533 Q389,534 389,545 L389,580 L348,580 Z" fill="#fff" stroke="#1b1b1b" stroke-width="1.3"/>
<g transform="translate(367.5 526) rotate(90)"><path d="M0,-13 L10,-13 A3.9,13 0 0 1 10,13 L0,13 A3.9,13 0 0 1 0,-13 Z" fill="#b0b0b0" stroke="#1b1b1b" stroke-width="1.3"/><ellipse cx="0" cy="0" rx="3.9" ry="13" fill="#b0b0b0" stroke="#1b1b1b" stroke-width="1.3"/><ellipse cx="0" cy="0" rx="3.3" ry="11" fill="#e4e4e4" stroke="#1b1b1b" stroke-width="0.9"/></g>
<path d="M345,582 L345,589 A22.5,5 0 0 0 391,589 L391,582 Z" fill="#a0a0a0" stroke="#1b1b1b" stroke-width="1.1"/>
<path d="M345,580 L345,583 A23,4.5 0 0 0 391,583 L391,580 A23,4.5 0 0 1 345,580 Z" fill="#fff" stroke="#1b1b1b" stroke-width="1.1"/>
<path d="M348,578 A20.5,4 0 0 0 389,578" fill="none" stroke="#1b1b1b" stroke-width="1"/>
<ellipse cx="367.5" cy="606" rx="19.5" ry="6" fill="none" stroke="#1b1b1b" stroke-width="2.2"/>
<path d="M347,630 Q350,652 368,652 Q386,652 389,630 Z" fill="#fff" stroke="#1b1b1b" stroke-width="1.3"/>
<g transform="translate(368 621.4) rotate(90)"><path d="M0,-22.5 L9.2,-22.5 A5.4,22.5 0 0 1 9.2,22.5 L0,22.5 A5.4,22.5 0 0 1 0,-22.5 Z" fill="#fff" stroke="#1b1b1b" stroke-width="1.4"/><path d="M3.68,-22.5 A5.4,22.5 0 0 1 3.68,22.5" fill="none" stroke="#1b1b1b" stroke-width="1"/><line x1="7.13" y1="-17.32" x2="12.95" y2="-17.32" stroke="#1b1b1b" stroke-width="1"/><line x1="7.87" y1="-14.17" x2="13.69" y2="-14.17" stroke="#1b1b1b" stroke-width="1"/><line x1="9.07" y1="-1.58" x2="14.89" y2="-1.58" stroke="#1b1b1b" stroke-width="1"/><line x1="9.07" y1="1.58" x2="14.89" y2="1.58" stroke="#1b1b1b" stroke-width="1"/><line x1="7.87" y1="14.17" x2="13.69" y2="14.17" stroke="#1b1b1b" stroke-width="1"/><line x1="7.13" y1="17.32" x2="12.95" y2="17.32" stroke="#1b1b1b" stroke-width="1"/><ellipse cx="0" cy="0" rx="5.4" ry="22.5" fill="#fff" stroke="#1b1b1b" stroke-width="1.4"/><ellipse cx="0" cy="0" rx="4.59" ry="19.12" fill="#b8b8b8" stroke="#1b1b1b" stroke-width="1.1"/><ellipse cx="1.38" cy="0" rx="3.3" ry="14.92" fill="#e4e4e4"/></g>
<ellipse cx="411.42" cy="535.51" rx="10" ry="15" fill="#fff" stroke="#1b1b1b" stroke-width="1.215" transform="rotate(-19 411.42 535.51)"/>
<ellipse cx="410" cy="536" rx="10" ry="15" fill="#fff" stroke="#1b1b1b" stroke-width="1.35" transform="rotate(-19 410 536)"/>
<ellipse cx="410" cy="536" rx="8.27" ry="12.4" fill="#fff" stroke="#1b1b1b" stroke-width="1.1475" transform="rotate(-19 410 536)"/>
<ellipse cx="434.5" cy="527.5" rx="9.5" ry="15" fill="none" stroke="#1b1b1b" stroke-width="1.9" transform="rotate(-19 434.5 527.5)"/>
<ellipse cx="435" cy="527.5" rx="8" ry="13.3" fill="none" stroke="#1b1b1b" stroke-width="0.9" transform="rotate(-19 435 527.5)"/>
<ellipse cx="461" cy="518" rx="14.5" ry="19" fill="#fff" stroke="#1b1b1b" stroke-width="1.4" transform="rotate(-19 461 518)"/>
<line x1="459.88" y1="499.5" x2="459.81" y2="503.5" stroke="#1b1b1b" stroke-width="1"/>
<line x1="464.44" y1="500.87" x2="463.17" y2="504.67" stroke="#1b1b1b" stroke-width="1"/>
<line x1="468.68" y1="503.83" x2="466.33" y2="507.06" stroke="#1b1b1b" stroke-width="1"/>
<line x1="472.22" y1="508.1" x2="469" y2="510.47" stroke="#1b1b1b" stroke-width="1"/>
<line x1="474.71" y1="513.28" x2="470.93" y2="514.58" stroke="#1b1b1b" stroke-width="1"/>
<line x1="475.94" y1="518.9" x2="471.94" y2="519" stroke="#1b1b1b" stroke-width="1"/>
<line x1="475.78" y1="524.44" x2="471.93" y2="523.33" stroke="#1b1b1b" stroke-width="1"/>
<line x1="474.25" y1="529.38" x2="470.92" y2="527.17" stroke="#1b1b1b" stroke-width="1"/>
<line x1="471.5" y1="533.27" x2="468.98" y2="530.16" stroke="#1b1b1b" stroke-width="1"/>
<ellipse cx="458" cy="518.5" rx="11.5" ry="17" fill="#333" stroke="#1b1b1b" stroke-width="1.2" transform="rotate(-19 458 518.5)"/>
<ellipse cx="458.77" cy="518.3" rx="10.84" ry="16.33" fill="none" stroke="#777" stroke-width="0.6" transform="rotate(-19 458.77 518.3)"/>
<ellipse cx="459.07" cy="518.3" rx="10.44" ry="16.03" fill="none" stroke="#777" stroke-width="0.6" transform="rotate(-19 459.07 518.3)"/>
<ellipse cx="459.37" cy="518.3" rx="10.04" ry="15.73" fill="none" stroke="#777" stroke-width="0.6" transform="rotate(-19 459.37 518.3)"/>
<ellipse cx="462.5" cy="517.5" rx="8.5" ry="14.5" fill="#fff" stroke="#1b1b1b" stroke-width="1.2" transform="rotate(-19 462.5 517.5)"/>
<ellipse cx="423.84" cy="578.02" rx="10.5" ry="14.5" fill="#fff" stroke="#1b1b1b" stroke-width="1.215" transform="rotate(-19 423.84 578.02)"/>
<ellipse cx="421" cy="579" rx="10.5" ry="14.5" fill="#fff" stroke="#1b1b1b" stroke-width="1.35" transform="rotate(-19 421 579)"/>
<ellipse cx="421" cy="579" rx="7.97" ry="11" fill="#fff" stroke="#1b1b1b" stroke-width="1.1475" transform="rotate(-19 421 579)"/>
<ellipse cx="562.5" cy="220" rx="20" ry="17" fill="none" stroke="#e42a1c" stroke-width="1.5"/>
<path d="M550.5,222 L550.5,225 Q553,230 563,230 Q573,230 575,225 L575,222 Z" fill="#fff" stroke="#1b1b1b" stroke-width="1.3"/>
<ellipse cx="562.8" cy="222" rx="12.2" ry="4.6" fill="#fff" stroke="#1b1b1b" stroke-width="1.3"/>
<ellipse cx="559" cy="212.5" rx="3.6" ry="6.5" fill="none" stroke="#1b1b1b" stroke-width="1.9" transform="rotate(18 559 212.5)"/>
<line x1="559" y1="217" x2="569" y2="224.5" stroke="#333" stroke-width="1.5"/>
<rect x="560.8" y="240" width="4" height="22" fill="#fff" stroke="#1b1b1b" stroke-width="1.1"/>
<ellipse cx="562.8" cy="240" rx="3" ry="1.6" fill="#fff" stroke="#1b1b1b" stroke-width="1.1"/>
<path d="M543.3,262.4 Q544.88,273 551.5,273 L574.5,273 Q581.12,273 582.7,262.4 Z" fill="#fff" stroke="#1b1b1b" stroke-width="1.2"/>
<ellipse cx="563" cy="262.4" rx="19.7" ry="6.4" fill="#fff" stroke="#1b1b1b" stroke-width="1.2"/>
<ellipse cx="563" cy="263.4" rx="16.7" ry="4.9" fill="#f0f0f0" stroke="#1b1b1b" stroke-width="0.9"/>
<ellipse cx="563" cy="284.1" rx="19.7" ry="6.8" fill="#fff" stroke="#1b1b1b" stroke-width="1.215"/>
<ellipse cx="563" cy="282.5" rx="19.7" ry="6.8" fill="#fff" stroke="#1b1b1b" stroke-width="1.35"/>
<ellipse cx="563" cy="282.5" rx="13.7" ry="4.73" fill="#fff" stroke="#1b1b1b" stroke-width="1.1475"/>
<ellipse cx="563" cy="304.3" rx="19.7" ry="7.2" fill="#fff" stroke="#1b1b1b" stroke-width="1.215"/>
<ellipse cx="563" cy="302.5" rx="19.7" ry="7.2" fill="#fff" stroke="#1b1b1b" stroke-width="1.35"/>
<ellipse cx="563" cy="302.5" rx="13.7" ry="5.01" fill="#fff" stroke="#1b1b1b" stroke-width="1.1475"/>
<ellipse cx="563" cy="302.5" rx="12" ry="3.6" fill="none" stroke="#1b1b1b" stroke-width="0.8"/>
<rect x="549.5" y="337" width="26.5" height="13" fill="#9a9a9a" stroke="#1b1b1b" stroke-width="1.1"/>
<line x1="549.5" y1="339.5" x2="576" y2="339.5" stroke="#666" stroke-width="0.7"/>
<line x1="549.5" y1="342" x2="576" y2="342" stroke="#666" stroke-width="0.7"/>
<line x1="549.5" y1="344.5" x2="576" y2="344.5" stroke="#666" stroke-width="0.7"/>
<line x1="549.5" y1="347" x2="576" y2="347" stroke="#666" stroke-width="0.7"/>
<line x1="549.5" y1="349.5" x2="576" y2="349.5" stroke="#666" stroke-width="0.7"/>
<ellipse cx="562.75" cy="350" rx="13.25" ry="3.18" fill="#9a9a9a" stroke="#1b1b1b" stroke-width="1"/>
<path d="M542.8,328.5 Q544.42,338 549.7,338 L576.3,338 Q581.58,338 583.2,328.5 Z" fill="#fff" stroke="#1b1b1b" stroke-width="1.2"/>
<ellipse cx="563" cy="328.5" rx="20.2" ry="7" fill="#fff" stroke="#1b1b1b" stroke-width="1.2"/>
<ellipse cx="563" cy="329.5" rx="17.2" ry="5.5" fill="#f0f0f0" stroke="#1b1b1b" stroke-width="0.9"/>
<ellipse cx="561.5" cy="361.9" rx="12.4" ry="4.5" fill="#fff" stroke="#1b1b1b" stroke-width="1.215"/>
<ellipse cx="561.5" cy="360.4" rx="12.4" ry="4.5" fill="#fff" stroke="#1b1b1b" stroke-width="1.35"/>
<ellipse cx="561.5" cy="360.4" rx="9.9" ry="3.59" fill="#fff" stroke="#1b1b1b" stroke-width="1.1475"/>
<ellipse cx="671" cy="116" rx="99" ry="68" fill="none" stroke="#e42a1c" stroke-width="1.5"/>
<path d="M642.5,61 Q646.17,74 667,74 Q687.83,74 691.5,61 Z" fill="#fff" stroke="#1b1b1b" stroke-width="1.3"/>
<line x1="647.6" y1="64.94" x2="657.81" y2="72.05" stroke="#333" stroke-width="0.9"/>
<line x1="651.48" y1="66.31" x2="659.65" y2="72.05" stroke="#333" stroke-width="0.9"/>
<line x1="655.36" y1="67.17" x2="661.49" y2="72.05" stroke="#333" stroke-width="0.9"/>
<line x1="659.24" y1="67.72" x2="663.33" y2="72.05" stroke="#333" stroke-width="0.9"/>
<line x1="663.12" y1="68.03" x2="665.16" y2="72.05" stroke="#333" stroke-width="0.9"/>
<line x1="667" y1="68.12" x2="667" y2="72.05" stroke="#333" stroke-width="0.9"/>
<line x1="670.88" y1="68.03" x2="668.84" y2="72.05" stroke="#333" stroke-width="0.9"/>
<line x1="674.76" y1="67.72" x2="670.67" y2="72.05" stroke="#333" stroke-width="0.9"/>
<line x1="678.64" y1="67.17" x2="672.51" y2="72.05" stroke="#333" stroke-width="0.9"/>
<line x1="682.52" y1="66.31" x2="674.35" y2="72.05" stroke="#333" stroke-width="0.9"/>
<line x1="686.4" y1="64.94" x2="676.19" y2="72.05" stroke="#333" stroke-width="0.9"/>
<ellipse cx="667" cy="61" rx="24.5" ry="7.5" fill="#fff" stroke="#1b1b1b" stroke-width="1.4"/>
<ellipse cx="667" cy="61.5" rx="22" ry="6.3" fill="#ececec" stroke="#1b1b1b" stroke-width="0.9"/>
<line x1="688.5" y1="61.5" x2="673" y2="63" stroke="#1b1b1b" stroke-width="1.5"/>
<line x1="687.2" y1="63.55" x2="672.64" y2="63.89" stroke="#1b1b1b" stroke-width="1.5"/>
<line x1="683.47" y1="65.36" x2="671.6" y2="64.67" stroke="#1b1b1b" stroke-width="1.5"/>
<line x1="677.75" y1="66.7" x2="670" y2="65.25" stroke="#1b1b1b" stroke-width="1.5"/>
<line x1="670.73" y1="67.41" x2="668.04" y2="65.56" stroke="#1b1b1b" stroke-width="1.5"/>
<line x1="663.27" y1="67.41" x2="665.96" y2="65.56" stroke="#1b1b1b" stroke-width="1.5"/>
<line x1="656.25" y1="66.7" x2="664" y2="65.25" stroke="#1b1b1b" stroke-width="1.5"/>
<line x1="650.53" y1="65.36" x2="662.4" y2="64.67" stroke="#1b1b1b" stroke-width="1.5"/>
<line x1="646.8" y1="63.55" x2="661.36" y2="63.89" stroke="#1b1b1b" stroke-width="1.5"/>
<line x1="645.5" y1="61.5" x2="661" y2="63" stroke="#1b1b1b" stroke-width="1.5"/>
<line x1="646.8" y1="59.45" x2="661.36" y2="62.11" stroke="#1b1b1b" stroke-width="1.5"/>
<line x1="650.53" y1="57.64" x2="662.4" y2="61.33" stroke="#1b1b1b" stroke-width="1.5"/>
<line x1="656.25" y1="56.3" x2="664" y2="60.75" stroke="#1b1b1b" stroke-width="1.5"/>
<line x1="663.27" y1="55.59" x2="665.96" y2="60.44" stroke="#1b1b1b" stroke-width="1.5"/>
<line x1="670.73" y1="55.59" x2="668.04" y2="60.44" stroke="#1b1b1b" stroke-width="1.5"/>
<line x1="677.75" y1="56.3" x2="670" y2="60.75" stroke="#1b1b1b" stroke-width="1.5"/>
<line x1="683.47" y1="57.64" x2="671.6" y2="61.33" stroke="#1b1b1b" stroke-width="1.5"/>
<line x1="687.2" y1="59.45" x2="672.64" y2="62.11" stroke="#1b1b1b" stroke-width="1.5"/>
<ellipse cx="667" cy="63" rx="5.5" ry="2.6" fill="#fff" stroke="#1b1b1b" stroke-width="1"/>
<ellipse cx="667" cy="63.5" rx="2.5" ry="1.2" fill="#555"/>
<rect x="664.5" y="73" width="5" height="10" rx="1.5" fill="#fff" stroke="#1b1b1b" stroke-width="1"/>
<ellipse cx="666" cy="99.5" rx="16" ry="5.5" fill="#fff" stroke="#1b1b1b" stroke-width="1.215"/>
<ellipse cx="666" cy="98" rx="16" ry="5.5" fill="#fff" stroke="#1b1b1b" stroke-width="1.35"/>
<ellipse cx="666" cy="98" rx="11" ry="3.78" fill="#fff" stroke="#1b1b1b" stroke-width="1.1475"/>
<rect x="700" y="100" width="5.5" height="20" rx="2" fill="#b0b0b0" stroke="#1b1b1b" stroke-width="1"/>
<line x1="700" y1="103" x2="705.5" y2="104" stroke="#333" stroke-width="0.9"/>
<line x1="700" y1="106" x2="705.5" y2="107" stroke="#333" stroke-width="0.9"/>
<line x1="700" y1="109" x2="705.5" y2="110" stroke="#333" stroke-width="0.9"/>
<line x1="700" y1="112" x2="705.5" y2="113" stroke="#333" stroke-width="0.9"/>
<line x1="700" y1="115" x2="705.5" y2="116" stroke="#333" stroke-width="0.9"/>
<line x1="700" y1="118" x2="705.5" y2="119" stroke="#333" stroke-width="0.9"/>
<ellipse cx="702.7" cy="99" rx="4.5" ry="2" fill="#fff" stroke="#1b1b1b" stroke-width="1"/>
<path d="M633,127 Q635.64,144 645,144 L687,144 Q696.36,144 699,127 Z" fill="#fff" stroke="#1b1b1b" stroke-width="1.2"/>
<ellipse cx="666" cy="127" rx="33" ry="10" fill="#fff" stroke="#1b1b1b" stroke-width="1.2"/>
<ellipse cx="666" cy="128" rx="30" ry="8.5" fill="#f0f0f0" stroke="#1b1b1b" stroke-width="0.9"/>
<rect x="663" y="115" width="6" height="20" rx="2" fill="#c8c8c8" stroke="#1b1b1b" stroke-width="1"/>
<ellipse cx="666" cy="149.5" rx="33" ry="9" fill="#fff" stroke="#1b1b1b" stroke-width="1.215"/>
<ellipse cx="666" cy="147.5" rx="33" ry="9" fill="#fff" stroke="#1b1b1b" stroke-width="1.35"/>
<ellipse cx="666" cy="147.5" rx="29" ry="7.91" fill="#fff" stroke="#1b1b1b" stroke-width="1.1475"/>
<ellipse cx="666" cy="169.5" rx="33" ry="10.5" fill="#fff" stroke="#1b1b1b" stroke-width="1.2"/>
<ellipse cx="666" cy="166" rx="31.5" ry="9.5" fill="none" stroke="#1b1b1b" stroke-width="4"/>
<ellipse cx="666" cy="166" rx="28" ry="8" fill="#fff" stroke="#1b1b1b" stroke-width="1"/>
<rect x="653.5" y="223" width="26" height="11.5" fill="#9a9a9a" stroke="#1b1b1b" stroke-width="1.1"/>
<line x1="653.5" y1="225.5" x2="679.5" y2="225.5" stroke="#666" stroke-width="0.7"/>
<line x1="653.5" y1="228" x2="679.5" y2="228" stroke="#666" stroke-width="0.7"/>
<line x1="653.5" y1="230.5" x2="679.5" y2="230.5" stroke="#666" stroke-width="0.7"/>
<line x1="653.5" y1="233" x2="679.5" y2="233" stroke="#666" stroke-width="0.7"/>
<ellipse cx="666.5" cy="234.5" rx="13" ry="3.12" fill="#9a9a9a" stroke="#1b1b1b" stroke-width="1"/>
<path d="M641.7,204 Q642.32,222 653.5,224 A13,3.25 0 0 0 679.5,224 Q690.68,222 691.3,204 Z" fill="#fff" stroke="#1b1b1b" stroke-width="1.3"/>
<path d="M635.5,199 L635.5,202 A31,8 0 0 0 697.5,202 L697.5,199 Z" fill="#fff" stroke="#1b1b1b" stroke-width="1.3"/>
<ellipse cx="666.5" cy="199" rx="31" ry="8" fill="#fff" stroke="#1b1b1b" stroke-width="1.4"/>
<ellipse cx="666.5" cy="199.8" rx="27.5" ry="6.2" fill="#f2f2f2" stroke="#1b1b1b" stroke-width="0.9"/>
<path d="M649.45,203.4 L682,196.2 L683.55,199.4 L652.55,205.8 Z" fill="#cfcfcf" stroke="#1b1b1b" stroke-width="0.9"/>
<path d="M647.9,205 Q666.5,207.8 685.1,205" fill="none" stroke="#1b1b1b" stroke-width="0.9"/>
<ellipse cx="666" cy="245" rx="12.5" ry="4.5" fill="#fff" stroke="#1b1b1b" stroke-width="1.215"/>
<ellipse cx="666" cy="243.5" rx="12.5" ry="4.5" fill="#fff" stroke="#1b1b1b" stroke-width="1.35"/>
<ellipse cx="666" cy="243.5" rx="10" ry="3.6" fill="#fff" stroke="#1b1b1b" stroke-width="1.1475"/>
<g transform="translate(667 258) rotate(90)"><path d="M0,-12 L134,-12 A3.6,12 0 0 1 134,12 L0,12 A3.6,12 0 0 1 0,-12 Z" fill="#fff" stroke="#1b1b1b" stroke-width="1.3"/><ellipse cx="0" cy="0" rx="3.6" ry="12" fill="#fff" stroke="#1b1b1b" stroke-width="1.3"/></g>
<line x1="659" y1="287" x2="659" y2="394" stroke="#8a8a8a" stroke-width="0.8"/>
<ellipse cx="667" cy="258" rx="9" ry="2.6" fill="none" stroke="#1b1b1b" stroke-width="0.9"/>
<g transform="translate(667 275) rotate(90)"><path d="M0,-15.5 L7,-15.5 A4.65,15.5 0 0 1 7,15.5 L0,15.5 A4.65,15.5 0 0 1 0,-15.5 Z" fill="#fff" stroke="#1b1b1b" stroke-width="1.4"/><path d="M2.8,-15.5 A4.65,15.5 0 0 1 2.8,15.5" fill="none" stroke="#1b1b1b" stroke-width="1"/><line x1="5.77" y1="-11.94" x2="10.27" y2="-11.94" stroke="#1b1b1b" stroke-width="1"/><line x1="6.41" y1="-9.76" x2="10.91" y2="-9.76" stroke="#1b1b1b" stroke-width="1"/><line x1="7.44" y1="-1.09" x2="11.94" y2="-1.09" stroke="#1b1b1b" stroke-width="1"/><line x1="7.44" y1="1.09" x2="11.94" y2="1.09" stroke="#1b1b1b" stroke-width="1"/><line x1="6.41" y1="9.76" x2="10.91" y2="9.76" stroke="#1b1b1b" stroke-width="1"/><line x1="5.77" y1="11.94" x2="10.27" y2="11.94" stroke="#1b1b1b" stroke-width="1"/><ellipse cx="0" cy="0" rx="4.65" ry="15.5" fill="#fff" stroke="#1b1b1b" stroke-width="1.4"/><ellipse cx="0" cy="0" rx="3.72" ry="12.4" fill="#fff" stroke="#1b1b1b" stroke-width="1.1"/></g>
<ellipse cx="667" cy="258" rx="12" ry="3.6" fill="#fff" stroke="#1b1b1b" stroke-width="1.2"/>
<g transform="translate(667 400.7) rotate(90)"><path d="M0,-15.5 L9.6,-15.5 A4.65,15.5 0 0 1 9.6,15.5 L0,15.5 A4.65,15.5 0 0 1 0,-15.5 Z" fill="#fff" stroke="#1b1b1b" stroke-width="1.4"/><path d="M3.84,-15.5 A4.65,15.5 0 0 1 3.84,15.5" fill="none" stroke="#1b1b1b" stroke-width="1"/><line x1="6.81" y1="-11.94" x2="12.87" y2="-11.94" stroke="#1b1b1b" stroke-width="1"/><line x1="7.45" y1="-9.76" x2="13.51" y2="-9.76" stroke="#1b1b1b" stroke-width="1"/><line x1="8.48" y1="-1.09" x2="14.54" y2="-1.09" stroke="#1b1b1b" stroke-width="1"/><line x1="8.48" y1="1.09" x2="14.54" y2="1.09" stroke="#1b1b1b" stroke-width="1"/><line x1="7.45" y1="9.76" x2="13.51" y2="9.76" stroke="#1b1b1b" stroke-width="1"/><line x1="6.81" y1="11.94" x2="12.87" y2="11.94" stroke="#1b1b1b" stroke-width="1"/><ellipse cx="0" cy="0" rx="4.65" ry="15.5" fill="#fff" stroke="#1b1b1b" stroke-width="1.4"/><ellipse cx="0" cy="0" rx="3.72" ry="12.4" fill="#9d9d9d" stroke="#1b1b1b" stroke-width="1.1"/><ellipse cx="1.12" cy="0" rx="2.68" ry="9.67" fill="#dcdcdc"/></g>
<ellipse cx="666.5" cy="424" rx="12.5" ry="4.5" fill="none" stroke="#1b1b1b" stroke-width="2.2"/>
<ellipse cx="666.5" cy="437.5" rx="11" ry="4" fill="#fff" stroke="#1b1b1b" stroke-width="1.215"/>
<ellipse cx="666.5" cy="436" rx="11" ry="4" fill="#fff" stroke="#1b1b1b" stroke-width="1.35"/>
<ellipse cx="666.5" cy="436" rx="8.5" ry="3.09" fill="#fff" stroke="#1b1b1b" stroke-width="1.1475"/>
<path d="M652,460 L652,480 Q655,490 666,490 Q677,489 677,478 L677,460 Z" fill="#fff" stroke="#1b1b1b" stroke-width="1.3"/>
<path d="M655,462 Q645,456 640,468 L640,480 Q644,490 660,488 L658,465 Z" fill="#fff" stroke="#1b1b1b" stroke-width="1.3"/>
<path d="M643,463 Q640,476 644,487" fill="none" stroke="#444" stroke-width="0.8"/>
<path d="M646,463 Q643,476 647,487" fill="none" stroke="#444" stroke-width="0.8"/>
<path d="M649,463 Q646,476 650,487" fill="none" stroke="#444" stroke-width="0.8"/>
<path d="M652,463 Q649,476 653,487" fill="none" stroke="#444" stroke-width="0.8"/>
<g transform="translate(665 452) rotate(90)"><path d="M0,-13.5 L9,-13.5 A4.05,13.5 0 0 1 9,13.5 L0,13.5 A4.05,13.5 0 0 1 0,-13.5 Z" fill="#b9b9b9" stroke="#1b1b1b" stroke-width="1.3"/><ellipse cx="0" cy="0" rx="4.05" ry="13.5" fill="#b9b9b9" stroke="#1b1b1b" stroke-width="1.3"/><ellipse cx="0" cy="0" rx="3.45" ry="11.5" fill="#f0f0f0" stroke="#1b1b1b" stroke-width="0.9"/></g>
<ellipse cx="630.41" cy="465.51" rx="8.5" ry="12.5" fill="#fff" stroke="#1b1b1b" stroke-width="1.215" transform="rotate(20 630.41 465.51)"/>
<ellipse cx="629" cy="465" rx="8.5" ry="12.5" fill="#fff" stroke="#1b1b1b" stroke-width="1.35" transform="rotate(20 629 465)"/>
<ellipse cx="629" cy="465" rx="6.8" ry="10" fill="#fff" stroke="#1b1b1b" stroke-width="1.1475" transform="rotate(20 629 465)"/>
<g transform="translate(613 456) rotate(-162.37)"><path d="M0,-11 L112.27,-11 A5.5,11 0 0 1 112.27,11 L0,11 A5.5,11 0 0 1 0,-11 Z" fill="#fff" stroke="#1b1b1b" stroke-width="1.3"/><ellipse cx="0" cy="0" rx="5.5" ry="11" fill="#fff" stroke="#1b1b1b" stroke-width="1.3"/><ellipse cx="0" cy="0" rx="4.5" ry="9" fill="#fafafa" stroke="#1b1b1b" stroke-width="0.9"/></g>
<g transform="translate(601 452) rotate(-160.35)"><path d="M0,-16 L14.87,-16 A6.72,16 0 0 1 14.87,16 L0,16 A6.72,16 0 0 1 0,-16 Z" fill="#fff" stroke="#1b1b1b" stroke-width="1.4"/><path d="M5.95,-16 A6.72,16 0 0 1 5.95,16" fill="none" stroke="#1b1b1b" stroke-width="1"/><line x1="10.23" y1="-12.32" x2="19.45" y2="-12.32" stroke="#1b1b1b" stroke-width="1"/><line x1="11.17" y1="-10.08" x2="20.38" y2="-10.08" stroke="#1b1b1b" stroke-width="1"/><line x1="12.65" y1="-1.12" x2="21.87" y2="-1.12" stroke="#1b1b1b" stroke-width="1"/><line x1="12.65" y1="1.12" x2="21.87" y2="1.12" stroke="#1b1b1b" stroke-width="1"/><line x1="11.17" y1="10.08" x2="20.38" y2="10.08" stroke="#1b1b1b" stroke-width="1"/><line x1="10.23" y1="12.32" x2="19.45" y2="12.32" stroke="#1b1b1b" stroke-width="1"/><ellipse cx="0" cy="0" rx="6.72" ry="16" fill="#fff" stroke="#1b1b1b" stroke-width="1.4"/><ellipse cx="0" cy="0" rx="5.24" ry="12.48" fill="#fff" stroke="#1b1b1b" stroke-width="1.1"/></g>
<g transform="translate(614 457) rotate(-158.96)"><path d="M0,-10.5 L13.93,-10.5 A5.25,10.5 0 0 1 13.93,10.5 L0,10.5 A5.25,10.5 0 0 1 0,-10.5 Z" fill="#fff" stroke="#1b1b1b" stroke-width="1.3"/><ellipse cx="0" cy="0" rx="5.25" ry="10.5" fill="#fff" stroke="#1b1b1b" stroke-width="1.3"/></g>
<ellipse cx="447.42" cy="400.49" rx="8.5" ry="11.5" fill="#fff" stroke="#1b1b1b" stroke-width="1.215" transform="rotate(19 447.42 400.49)"/>
<ellipse cx="446" cy="400" rx="8.5" ry="11.5" fill="#fff" stroke="#1b1b1b" stroke-width="1.35" transform="rotate(19 446 400)"/>
<ellipse cx="446" cy="400" rx="6.65" ry="9" fill="#fff" stroke="#1b1b1b" stroke-width="1.1475" transform="rotate(19 446 400)"/>
<ellipse cx="465" cy="405" rx="8.5" ry="11.5" fill="none" stroke="#1b1b1b" stroke-width="2.2" transform="rotate(19 465 405)"/>
<g transform="translate(493 416) rotate(203)"><path d="M0,-13.5 L8,-13.5 A8.1,13.5 0 0 1 8,13.5 L0,13.5 A8.1,13.5 0 0 1 0,-13.5 Z" fill="#fff" stroke="#1b1b1b" stroke-width="1.4"/><clipPath id="cp3"><ellipse cx="0" cy="0" rx="6.32" ry="10.53"/></clipPath><ellipse cx="0" cy="0" rx="8.1" ry="13.5" fill="#fff" stroke="#1b1b1b" stroke-width="1.4"/><line x1="4.75" y1="-10.94" x2="13.05" y2="-10.94" stroke="#1b1b1b" stroke-width="0.9"/><line x1="5.86" y1="-9.31" x2="14.16" y2="-9.31" stroke="#1b1b1b" stroke-width="0.9"/><line x1="7.7" y1="-4.18" x2="16" y2="-4.18" stroke="#1b1b1b" stroke-width="0.9"/><line x1="7.95" y1="-2.56" x2="16.25" y2="-2.56" stroke="#1b1b1b" stroke-width="0.9"/><line x1="7.95" y1="2.56" x2="16.25" y2="2.56" stroke="#1b1b1b" stroke-width="0.9"/><line x1="7.7" y1="4.18" x2="16" y2="4.18" stroke="#1b1b1b" stroke-width="0.9"/><line x1="5.86" y1="9.31" x2="14.16" y2="9.31" stroke="#1b1b1b" stroke-width="0.9"/><line x1="4.75" y1="10.94" x2="13.05" y2="10.94" stroke="#1b1b1b" stroke-width="0.9"/><ellipse cx="0" cy="0" rx="8.1" ry="13.5" fill="#fff" stroke="#1b1b1b" stroke-width="1.4"/><ellipse cx="0" cy="0" rx="6.32" ry="10.53" fill="#8e8e8e" stroke="#1b1b1b" stroke-width="1.2"/><g clip-path="url(#cp3)"><line x1="0" y1="-12.8" x2="16.1" y2="-8.8" stroke="#444" stroke-width="0.7"/><line x1="0" y1="-11.45" x2="16.1" y2="-7.45" stroke="#444" stroke-width="0.7"/><line x1="0" y1="-10.1" x2="16.1" y2="-6.1" stroke="#444" stroke-width="0.7"/><line x1="0" y1="-8.75" x2="16.1" y2="-4.75" stroke="#444" stroke-width="0.7"/><line x1="0" y1="-7.4" x2="16.1" y2="-3.4" stroke="#444" stroke-width="0.7"/><line x1="0" y1="-6.05" x2="16.1" y2="-2.05" stroke="#444" stroke-width="0.7"/><line x1="0" y1="-4.7" x2="16.1" y2="-0.7" stroke="#444" stroke-width="0.7"/><line x1="0" y1="-3.35" x2="16.1" y2="0.65" stroke="#444" stroke-width="0.7"/><line x1="0" y1="-2" x2="16.1" y2="2" stroke="#444" stroke-width="0.7"/><line x1="0" y1="-0.65" x2="16.1" y2="3.35" stroke="#444" stroke-width="0.7"/><line x1="0" y1="0.7" x2="16.1" y2="4.7" stroke="#444" stroke-width="0.7"/><line x1="0" y1="2.05" x2="16.1" y2="6.05" stroke="#444" stroke-width="0.7"/><line x1="0" y1="3.4" x2="16.1" y2="7.4" stroke="#444" stroke-width="0.7"/><line x1="0" y1="4.75" x2="16.1" y2="8.75" stroke="#444" stroke-width="0.7"/><line x1="0" y1="6.1" x2="16.1" y2="10.1" stroke="#444" stroke-width="0.7"/><line x1="0" y1="7.45" x2="16.1" y2="11.45" stroke="#444" stroke-width="0.7"/><line x1="0" y1="8.8" x2="16.1" y2="12.8" stroke="#444" stroke-width="0.7"/><ellipse cx="8" cy="0" rx="6.32" ry="10.53" fill="#fff" stroke="#1b1b1b" stroke-width="1"/></g></g>
<ellipse cx="657" cy="546.5" rx="12" ry="4.5" fill="#fff" stroke="#1b1b1b" stroke-width="1.215"/>
<ellipse cx="657" cy="545" rx="12" ry="4.5" fill="#fff" stroke="#1b1b1b" stroke-width="1.35"/>
<ellipse cx="657" cy="545" rx="9.5" ry="3.56" fill="#fff" stroke="#1b1b1b" stroke-width="1.1475"/>
<g transform="translate(657 562) rotate(90)"><path d="M0,-11 L120,-11 A3.3,11 0 0 1 120,11 L0,11 A3.3,11 0 0 1 0,-11 Z" fill="#fff" stroke="#1b1b1b" stroke-width="1.3"/><ellipse cx="0" cy="0" rx="3.3" ry="11" fill="#fff" stroke="#1b1b1b" stroke-width="1.3"/></g>
<line x1="650" y1="571" x2="650" y2="684" stroke="#8a8a8a" stroke-width="0.8"/>
<g transform="translate(657 559.4) rotate(90)"><path d="M0,-14.5 L6.2,-14.5 A4.35,14.5 0 0 1 6.2,14.5 L0,14.5 A4.35,14.5 0 0 1 0,-14.5 Z" fill="#fff" stroke="#1b1b1b" stroke-width="1.4"/><path d="M2.48,-14.5 A4.35,14.5 0 0 1 2.48,14.5" fill="none" stroke="#1b1b1b" stroke-width="1"/><line x1="5.26" y1="-11.17" x2="9.28" y2="-11.17" stroke="#1b1b1b" stroke-width="1"/><line x1="5.86" y1="-9.13" x2="9.88" y2="-9.13" stroke="#1b1b1b" stroke-width="1"/><line x1="6.82" y1="-1.02" x2="10.84" y2="-1.02" stroke="#1b1b1b" stroke-width="1"/><line x1="6.82" y1="1.02" x2="10.84" y2="1.02" stroke="#1b1b1b" stroke-width="1"/><line x1="5.86" y1="9.13" x2="9.88" y2="9.13" stroke="#1b1b1b" stroke-width="1"/><line x1="5.26" y1="11.17" x2="9.28" y2="11.17" stroke="#1b1b1b" stroke-width="1"/><ellipse cx="0" cy="0" rx="4.35" ry="14.5" fill="#fff" stroke="#1b1b1b" stroke-width="1.4"/><ellipse cx="0" cy="0" rx="3.48" ry="11.6" fill="#e0e0e0" stroke="#1b1b1b" stroke-width="1.1"/></g>
<path d="M530.5,617.1 L628,651 Q640,656 639,668 L639,698 A10,3 0 0 1 619,698 L619,670 L523.5,636.9 A5,10.5 19.5 0 1 530.5,617.1 Z" fill="#fff" stroke="#1b1b1b" stroke-width="1.3"/>
<path d="M620,668 Q628,660 638,665" fill="none" stroke="#1b1b1b" stroke-width="0.8"/>
<g transform="translate(656.5 690.7) rotate(90)"><path d="M0,-14.5 L8.7,-14.5 A4.35,14.5 0 0 1 8.7,14.5 L0,14.5 A4.35,14.5 0 0 1 0,-14.5 Z" fill="#fff" stroke="#1b1b1b" stroke-width="1.4"/><path d="M3.48,-14.5 A4.35,14.5 0 0 1 3.48,14.5" fill="none" stroke="#1b1b1b" stroke-width="1"/><line x1="6.26" y1="-11.17" x2="11.78" y2="-11.17" stroke="#1b1b1b" stroke-width="1"/><line x1="6.86" y1="-9.13" x2="12.38" y2="-9.13" stroke="#1b1b1b" stroke-width="1"/><line x1="7.82" y1="-1.02" x2="13.34" y2="-1.02" stroke="#1b1b1b" stroke-width="1"/><line x1="7.82" y1="1.02" x2="13.34" y2="1.02" stroke="#1b1b1b" stroke-width="1"/><line x1="6.86" y1="9.13" x2="12.38" y2="9.13" stroke="#1b1b1b" stroke-width="1"/><line x1="6.26" y1="11.17" x2="11.78" y2="11.17" stroke="#1b1b1b" stroke-width="1"/><ellipse cx="0" cy="0" rx="4.35" ry="14.5" fill="#fff" stroke="#1b1b1b" stroke-width="1.4"/><ellipse cx="0" cy="0" rx="3.48" ry="11.6" fill="#9d9d9d" stroke="#1b1b1b" stroke-width="1.1"/><ellipse cx="1.04" cy="0" rx="2.51" ry="9.05" fill="#dcdcdc"/></g>
<g transform="translate(629.5 710.8) rotate(90)"><path d="M0,-14.5 L9.6,-14.5 A4.35,14.5 0 0 1 9.6,14.5 L0,14.5 A4.35,14.5 0 0 1 0,-14.5 Z" fill="#fff" stroke="#1b1b1b" stroke-width="1.4"/><path d="M3.84,-14.5 A4.35,14.5 0 0 1 3.84,14.5" fill="none" stroke="#1b1b1b" stroke-width="1"/><line x1="6.62" y1="-11.17" x2="12.68" y2="-11.17" stroke="#1b1b1b" stroke-width="1"/><line x1="7.22" y1="-9.13" x2="13.28" y2="-9.13" stroke="#1b1b1b" stroke-width="1"/><line x1="8.18" y1="-1.02" x2="14.24" y2="-1.02" stroke="#1b1b1b" stroke-width="1"/><line x1="8.18" y1="1.02" x2="14.24" y2="1.02" stroke="#1b1b1b" stroke-width="1"/><line x1="7.22" y1="9.13" x2="13.28" y2="9.13" stroke="#1b1b1b" stroke-width="1"/><line x1="6.62" y1="11.17" x2="12.68" y2="11.17" stroke="#1b1b1b" stroke-width="1"/><ellipse cx="0" cy="0" rx="4.35" ry="14.5" fill="#fff" stroke="#1b1b1b" stroke-width="1.4"/><ellipse cx="0" cy="0" rx="3.48" ry="11.6" fill="#9d9d9d" stroke="#1b1b1b" stroke-width="1.1"/><ellipse cx="1.04" cy="0" rx="2.51" ry="9.05" fill="#dcdcdc"/></g>
<ellipse cx="656.5" cy="712.5" rx="11" ry="4" fill="none" stroke="#1b1b1b" stroke-width="2.2"/>
<ellipse cx="656.5" cy="730.5" rx="12" ry="4" fill="#fff" stroke="#1b1b1b" stroke-width="1.215"/>
<ellipse cx="656.5" cy="729" rx="12" ry="4" fill="#fff" stroke="#1b1b1b" stroke-width="1.35"/>
<ellipse cx="656.5" cy="729" rx="9.5" ry="3.17" fill="#fff" stroke="#1b1b1b" stroke-width="1.1475"/>
<ellipse cx="629" cy="736.5" rx="11" ry="4" fill="none" stroke="#1b1b1b" stroke-width="2.2"/>
<ellipse cx="629" cy="752.5" rx="11.5" ry="4.5" fill="#fff" stroke="#1b1b1b" stroke-width="1.215"/>
<ellipse cx="629" cy="751" rx="11.5" ry="4.5" fill="#fff" stroke="#1b1b1b" stroke-width="1.35"/>
<ellipse cx="629" cy="751" rx="9" ry="3.52" fill="#fff" stroke="#1b1b1b" stroke-width="1.1475"/>
<path d="M621.5,770 L621.5,786 Q626,801 646,801 Q669,800 670,782 L670,750 L644,750 L644,764 L646.5,764 L646.5,783 Z" fill="#fff" stroke="#1b1b1b" stroke-width="1.3"/>
<path d="M634,789 Q648,797 660,783" fill="none" stroke="#1b1b1b" stroke-width="0.9"/>
<g transform="translate(657 742.5) rotate(90)"><path d="M0,-13 L10,-13 A3.9,13 0 0 1 10,13 L0,13 A3.9,13 0 0 1 0,-13 Z" fill="#a8a8a8" stroke="#1b1b1b" stroke-width="1.3"/><ellipse cx="0" cy="0" rx="3.9" ry="13" fill="#a8a8a8" stroke="#1b1b1b" stroke-width="1.3"/><ellipse cx="0" cy="0" rx="3.3" ry="11" fill="#ececec" stroke="#1b1b1b" stroke-width="0.9"/></g>
<path d="M621.5,776 L621.5,782 A12.7,3.8 0 0 0 646.5,782 L646.5,776 Z" fill="#fff" stroke="#1b1b1b" stroke-width="1.1"/>
<g transform="translate(634 766.5) rotate(90)"><path d="M0,-12.7 L9.5,-12.7 A3.81,12.7 0 0 1 9.5,12.7 L0,12.7 A3.81,12.7 0 0 1 0,-12.7 Z" fill="#a8a8a8" stroke="#1b1b1b" stroke-width="1.3"/><ellipse cx="0" cy="0" rx="3.81" ry="12.7" fill="#a8a8a8" stroke="#1b1b1b" stroke-width="1.3"/><ellipse cx="0" cy="0" rx="3.15" ry="10.5" fill="#ececec" stroke="#1b1b1b" stroke-width="0.9"/></g>
<g transform="translate(178 538) rotate(90)"><path d="M0,-11.5 L127,-11.5 A3.45,11.5 0 0 1 127,11.5 L0,11.5 A3.45,11.5 0 0 1 0,-11.5 Z" fill="#fff" stroke="#1b1b1b" stroke-width="1.3"/><ellipse cx="0" cy="0" rx="3.45" ry="11.5" fill="#fff" stroke="#1b1b1b" stroke-width="1.3"/></g>
<line x1="171" y1="545" x2="171" y2="667" stroke="#8a8a8a" stroke-width="0.8"/>
<g transform="translate(157 548) rotate(30.26)"><path d="M0,-8 L13.89,-8 A4,8 0 0 1 13.89,8 L0,8 A4,8 0 0 1 0,-8 Z" fill="#fff" stroke="#1b1b1b" stroke-width="1.3"/><path d="M0,-8 L4,-8 A4,8 0 0 1 4,8 L0,8 A4,8 0 0 0 0,-8 Z" fill="#8a8a8a" stroke="#1b1b1b" stroke-width="0.9"/><ellipse cx="0" cy="0" rx="4" ry="8" fill="#fff" stroke="#1b1b1b" stroke-width="1.3"/><ellipse cx="0" cy="0" rx="3" ry="6" fill="#bbb" stroke="#1b1b1b" stroke-width="0.9"/></g>
<g transform="translate(178 534.4) rotate(90)"><path d="M0,-14.5 L6.2,-14.5 A4.35,14.5 0 0 1 6.2,14.5 L0,14.5 A4.35,14.5 0 0 1 0,-14.5 Z" fill="#fff" stroke="#1b1b1b" stroke-width="1.4"/><path d="M2.48,-14.5 A4.35,14.5 0 0 1 2.48,14.5" fill="none" stroke="#1b1b1b" stroke-width="1"/><line x1="5.26" y1="-11.17" x2="9.28" y2="-11.17" stroke="#1b1b1b" stroke-width="1"/><line x1="5.86" y1="-9.13" x2="9.88" y2="-9.13" stroke="#1b1b1b" stroke-width="1"/><line x1="6.82" y1="-1.02" x2="10.84" y2="-1.02" stroke="#1b1b1b" stroke-width="1"/><line x1="6.82" y1="1.02" x2="10.84" y2="1.02" stroke="#1b1b1b" stroke-width="1"/><line x1="5.86" y1="9.13" x2="9.88" y2="9.13" stroke="#1b1b1b" stroke-width="1"/><line x1="5.26" y1="11.17" x2="9.28" y2="11.17" stroke="#1b1b1b" stroke-width="1"/><ellipse cx="0" cy="0" rx="4.35" ry="14.5" fill="#fff" stroke="#1b1b1b" stroke-width="1.4"/><ellipse cx="0" cy="0" rx="3.48" ry="11.6" fill="#e0e0e0" stroke="#1b1b1b" stroke-width="1.1"/></g>
<g transform="translate(200 559) rotate(-176.82)"><path d="M0,-8.5 L18.03,-8.5 A4.68,8.5 0 0 1 18.03,8.5 L0,8.5 A4.68,8.5 0 0 1 0,-8.5 Z" fill="#fff" stroke="#1b1b1b" stroke-width="1.3"/><ellipse cx="0" cy="0" rx="4.68" ry="8.5" fill="#fff" stroke="#1b1b1b" stroke-width="1.3"/><ellipse cx="0" cy="0" rx="3.58" ry="6.5" fill="#888" stroke="#1b1b1b" stroke-width="0.9"/></g>
<g transform="translate(218 561) rotate(180)"><path d="M0,-6.5 L6,-6.5 A3.58,6.5 0 0 1 6,6.5 L0,6.5 A3.58,6.5 0 0 1 0,-6.5 Z" fill="#fff" stroke="#1b1b1b" stroke-width="1.4"/><path d="M2.4,-6.5 A3.58,6.5 0 0 1 2.4,6.5" fill="none" stroke="#1b1b1b" stroke-width="1"/><line x1="4.16" y1="-5.66" x2="8.06" y2="-5.66" stroke="#1b1b1b" stroke-width="1"/><line x1="4.84" y1="-4.75" x2="8.74" y2="-4.75" stroke="#1b1b1b" stroke-width="1"/><line x1="5.77" y1="-2.19" x2="9.67" y2="-2.19" stroke="#1b1b1b" stroke-width="1"/><line x1="5.91" y1="-1.28" x2="9.81" y2="-1.28" stroke="#1b1b1b" stroke-width="1"/><line x1="5.91" y1="1.28" x2="9.81" y2="1.28" stroke="#1b1b1b" stroke-width="1"/><line x1="5.77" y1="2.19" x2="9.67" y2="2.19" stroke="#1b1b1b" stroke-width="1"/><line x1="4.84" y1="4.75" x2="8.74" y2="4.75" stroke="#1b1b1b" stroke-width="1"/><line x1="4.16" y1="5.66" x2="8.06" y2="5.66" stroke="#1b1b1b" stroke-width="1"/><ellipse cx="0" cy="0" rx="3.58" ry="6.5" fill="#fff" stroke="#1b1b1b" stroke-width="1.4"/><ellipse cx="0" cy="0" rx="2.5" ry="4.55" fill="#9d9d9d" stroke="#1b1b1b" stroke-width="1.1"/><ellipse cx="0.75" cy="0" rx="1.8" ry="3.55" fill="#dcdcdc"/></g>
<ellipse cx="235" cy="561.5" rx="5.5" ry="8" fill="#fff" stroke="#1b1b1b" stroke-width="1.215"/>
<ellipse cx="235" cy="560" rx="5.5" ry="8" fill="#fff" stroke="#1b1b1b" stroke-width="1.35"/>
<ellipse cx="235" cy="560" rx="3.7" ry="5.38" fill="#fff" stroke="#1b1b1b" stroke-width="1.1475"/>
<path d="M250,553 Q266,549 268,562 L271,584 L262,588 L257,570 L250,570 Z" fill="#fff" stroke="#1b1b1b" stroke-width="1.3"/>
<line x1="258" y1="570" x2="270" y2="569" stroke="#333" stroke-width="0.9"/>
<line x1="258" y1="573" x2="270" y2="572" stroke="#333" stroke-width="0.9"/>
<line x1="258" y1="576" x2="270" y2="575" stroke="#333" stroke-width="0.9"/>
<line x1="258" y1="579" x2="270" y2="578" stroke="#333" stroke-width="0.9"/>
<line x1="258" y1="582" x2="270" y2="581" stroke="#333" stroke-width="0.9"/>
<line x1="258" y1="585" x2="270" y2="584" stroke="#333" stroke-width="0.9"/>
<g transform="translate(246 561) rotate(0)"><path d="M0,-9 L8,-9 A4.05,9 0 0 1 8,9 L0,9 A4.05,9 0 0 1 0,-9 Z" fill="#fff" stroke="#1b1b1b" stroke-width="1.4"/><path d="M3.2,-9 A4.05,9 0 0 1 3.2,9" fill="none" stroke="#1b1b1b" stroke-width="1"/><line x1="5.78" y1="-6.93" x2="10.88" y2="-6.93" stroke="#1b1b1b" stroke-width="1"/><line x1="6.35" y1="-5.67" x2="11.45" y2="-5.67" stroke="#1b1b1b" stroke-width="1"/><line x1="7.24" y1="-0.63" x2="12.34" y2="-0.63" stroke="#1b1b1b" stroke-width="1"/><line x1="7.24" y1="0.63" x2="12.34" y2="0.63" stroke="#1b1b1b" stroke-width="1"/><line x1="6.35" y1="5.67" x2="11.45" y2="5.67" stroke="#1b1b1b" stroke-width="1"/><line x1="5.78" y1="6.93" x2="10.88" y2="6.93" stroke="#1b1b1b" stroke-width="1"/><ellipse cx="0" cy="0" rx="4.05" ry="9" fill="#fff" stroke="#1b1b1b" stroke-width="1.4"/><ellipse cx="0" cy="0" rx="3.24" ry="7.2" fill="#9d9d9d" stroke="#1b1b1b" stroke-width="1.1"/><ellipse cx="0.97" cy="0" rx="2.33" ry="5.62" fill="#dcdcdc"/></g>
<path d="M108,523 Q105,510 113,507.5 Q121,505.5 126,511 L125,529 Q119,529 117,533 L114,541 L104.5,539 Z" fill="#fff" stroke="#1b1b1b" stroke-width="1.3"/>
<line x1="107.5" y1="522" x2="118.5" y2="523.5" stroke="#333" stroke-width="1"/>
<line x1="106.99" y1="525" x2="117.9" y2="526.5" stroke="#333" stroke-width="1"/>
<line x1="106.48" y1="528" x2="117.3" y2="529.5" stroke="#333" stroke-width="1"/>
<line x1="105.97" y1="531" x2="116.7" y2="532.5" stroke="#333" stroke-width="1"/>
<line x1="105.46" y1="534" x2="116.1" y2="535.5" stroke="#333" stroke-width="1"/>
<line x1="104.95" y1="537" x2="115.5" y2="538.5" stroke="#333" stroke-width="1"/>
<path d="M110,511 Q113,516 117,520" fill="none" stroke="#1b1b1b" stroke-width="0.8"/>
<path d="M103.5,540 L114,542.5 L114.5,547 L109,549.5 L103,547 Z" fill="#fff" stroke="#1b1b1b" stroke-width="1.5"/>
<g transform="translate(132 522) rotate(-158.75)"><path d="M0,-10.5 L9.66,-10.5 A4.73,10.5 0 0 1 9.66,10.5 L0,10.5 A4.73,10.5 0 0 1 0,-10.5 Z" fill="#fff" stroke="#1b1b1b" stroke-width="1.4"/><path d="M3.86,-10.5 A4.73,10.5 0 0 1 3.86,10.5" fill="none" stroke="#1b1b1b" stroke-width="1"/><line x1="6.88" y1="-8.09" x2="12.97" y2="-8.09" stroke="#1b1b1b" stroke-width="1"/><line x1="7.53" y1="-6.61" x2="13.63" y2="-6.61" stroke="#1b1b1b" stroke-width="1"/><line x1="8.58" y1="-0.74" x2="14.67" y2="-0.74" stroke="#1b1b1b" stroke-width="1"/><line x1="8.58" y1="0.74" x2="14.67" y2="0.74" stroke="#1b1b1b" stroke-width="1"/><line x1="7.53" y1="6.61" x2="13.63" y2="6.61" stroke="#1b1b1b" stroke-width="1"/><line x1="6.88" y1="8.09" x2="12.97" y2="8.09" stroke="#1b1b1b" stroke-width="1"/><ellipse cx="0" cy="0" rx="4.73" ry="10.5" fill="#fff" stroke="#1b1b1b" stroke-width="1.4"/><ellipse cx="0" cy="0" rx="3.78" ry="8.4" fill="#6a6a6a" stroke="#1b1b1b" stroke-width="1.1"/><ellipse cx="1.13" cy="0" rx="2.72" ry="6.55" fill="#c8c8c8"/></g>
<ellipse cx="138.36" cy="531.63" rx="6" ry="8" fill="#fff" stroke="#1b1b1b" stroke-width="1.215" transform="rotate(25 138.36 531.63)"/>
<ellipse cx="137" cy="531" rx="6" ry="8" fill="#fff" stroke="#1b1b1b" stroke-width="1.35" transform="rotate(25 137 531)"/>
<ellipse cx="137" cy="531" rx="4.5" ry="6" fill="#fff" stroke="#1b1b1b" stroke-width="1.1475" transform="rotate(25 137 531)"/>
<g transform="translate(152 539) rotate(-153.43)"><path d="M0,-6.5 L6.71,-6.5 A3.58,6.5 0 0 1 6.71,6.5 L0,6.5 A3.58,6.5 0 0 1 0,-6.5 Z" fill="#fff" stroke="#1b1b1b" stroke-width="1.4"/><path d="M2.68,-6.5 A3.58,6.5 0 0 1 2.68,6.5" fill="none" stroke="#1b1b1b" stroke-width="1"/><line x1="4.45" y1="-5.66" x2="8.77" y2="-5.66" stroke="#1b1b1b" stroke-width="1"/><line x1="5.13" y1="-4.75" x2="9.45" y2="-4.75" stroke="#1b1b1b" stroke-width="1"/><line x1="6.05" y1="-2.19" x2="10.37" y2="-2.19" stroke="#1b1b1b" stroke-width="1"/><line x1="6.19" y1="-1.28" x2="10.51" y2="-1.28" stroke="#1b1b1b" stroke-width="1"/><line x1="6.19" y1="1.28" x2="10.51" y2="1.28" stroke="#1b1b1b" stroke-width="1"/><line x1="6.05" y1="2.19" x2="10.37" y2="2.19" stroke="#1b1b1b" stroke-width="1"/><line x1="5.13" y1="4.75" x2="9.45" y2="4.75" stroke="#1b1b1b" stroke-width="1"/><line x1="4.45" y1="5.66" x2="8.77" y2="5.66" stroke="#1b1b1b" stroke-width="1"/><ellipse cx="0" cy="0" rx="3.58" ry="6.5" fill="#fff" stroke="#1b1b1b" stroke-width="1.4"/><ellipse cx="0" cy="0" rx="2.5" ry="4.55" fill="#9d9d9d" stroke="#1b1b1b" stroke-width="1.1"/><ellipse cx="0.75" cy="0" rx="1.8" ry="3.55" fill="#dcdcdc"/></g>
<line x1="168" y1="251" x2="300" y2="298" stroke="#9a9a9a" stroke-width="1" stroke-dasharray="5 4"/>
<line x1="459" y1="357" x2="552" y2="385" stroke="#9a9a9a" stroke-width="1" stroke-dasharray="5 4"/>
<line x1="300" y1="398" x2="345" y2="398" stroke="#9a9a9a" stroke-width="1" stroke-dasharray="5 4"/>
<line x1="385" y1="545" x2="480" y2="512" stroke="#9a9a9a" stroke-width="1" stroke-dasharray="5 4"/>
<line x1="400" y1="587" x2="445" y2="572" stroke="#9a9a9a" stroke-width="1" stroke-dasharray="5 4"/>
<line x1="508" y1="422" x2="640" y2="470" stroke="#9a9a9a" stroke-width="1" stroke-dasharray="5 4"/>
<line x1="422" y1="390" x2="500" y2="420" stroke="#9a9a9a" stroke-width="1" stroke-dasharray="5 4"/>
<line x1="128" y1="523" x2="168" y2="550" stroke="#9a9a9a" stroke-width="1" stroke-dasharray="5 4"/>
<line x1="185" y1="557" x2="252" y2="561" stroke="#9a9a9a" stroke-width="1" stroke-dasharray="5 4"/>
<line x1="51" y1="28" x2="51" y2="165" stroke="#9a9a9a" stroke-width="1" stroke-dasharray="5 4"/>
<line x1="175" y1="28" x2="175" y2="232" stroke="#9a9a9a" stroke-width="1" stroke-dasharray="5 4"/>
<line x1="667" y1="50" x2="667" y2="470" stroke="#9a9a9a" stroke-width="1" stroke-dasharray="5 4"/>
<line x1="562" y1="205" x2="562" y2="380" stroke="#9a9a9a" stroke-width="1" stroke-dasharray="5 4"/>
<line x1="182" y1="364" x2="182" y2="476" stroke="#9a9a9a" stroke-width="1" stroke-dasharray="5 4"/>
<line x1="368" y1="358" x2="368" y2="648" stroke="#9a9a9a" stroke-width="1" stroke-dasharray="5 4"/>
<line x1="657" y1="684" x2="657" y2="800" stroke="#9a9a9a" stroke-width="1" stroke-dasharray="5 4"/>
<line x1="630" y1="703" x2="630" y2="800" stroke="#9a9a9a" stroke-width="1" stroke-dasharray="5 4"/>
<line x1="300" y1="298" x2="460" y2="352" stroke="#9a9a9a" stroke-width="1" stroke-dasharray="5 4"/>
<text x="126.3" y="12.9" fill="#e0141a" stroke="#e0141a" stroke-width="0.2" font-size="17" text-anchor="start" textLength="73.5" lengthAdjust="spacingAndGlyphs">S0384-ND</text>
<text x="96.8" y="66.4" fill="#e0141a" stroke="#e0141a" stroke-width="0.2" font-size="17" text-anchor="start" textLength="73.5" lengthAdjust="spacingAndGlyphs">S0981-ND</text>
<text x="184.3" y="64.9" fill="#e0141a" stroke="#e0141a" stroke-width="0.2" font-size="17" text-anchor="start" textLength="73.5" lengthAdjust="spacingAndGlyphs">S0316-ND</text>
<text x="85.3" y="90.9" fill="#e0141a" stroke="#e0141a" stroke-width="0.2" font-size="17" text-anchor="start" textLength="73.5" lengthAdjust="spacingAndGlyphs">S0388-ND</text>
<text x="101.8" y="253.4" fill="#1f1f1f" stroke="#1f1f1f" stroke-width="0.2" font-size="17" text-anchor="start" textLength="45" lengthAdjust="spacingAndGlyphs">S0358</text>
<text x="275.3" y="271.9" fill="#e0141a" stroke="#e0141a" stroke-width="0.2" font-size="17" text-anchor="start" textLength="73.5" lengthAdjust="spacingAndGlyphs">S0009-ND</text>
<text x="343.8" y="288.4" fill="#1f1f1f" stroke="#1f1f1f" stroke-width="0.2" font-size="17" text-anchor="start" textLength="45" lengthAdjust="spacingAndGlyphs">S0357</text>
<text x="193.3" y="326.9" fill="#e0141a" stroke="#e0141a" stroke-width="0.2" font-size="17" text-anchor="start" textLength="73.5" lengthAdjust="spacingAndGlyphs">S0004-ND</text>
<text x="244.8" y="344.9" fill="#e0141a" stroke="#e0141a" stroke-width="0.2" font-size="17" text-anchor="start" textLength="73.5" lengthAdjust="spacingAndGlyphs">S0516-ND</text>
<text x="273.3" y="365.9" fill="#e0141a" stroke="#e0141a" stroke-width="0.2" font-size="17" text-anchor="start" textLength="73.5" lengthAdjust="spacingAndGlyphs">P0050-ND</text>
<text x="386.3" y="381.9" fill="#e0141a" stroke="#e0141a" stroke-width="0.2" font-size="17" text-anchor="start" textLength="73.5" lengthAdjust="spacingAndGlyphs">S0323-ND</text>
<text x="381.8" y="423.4" fill="#e0141a" stroke="#e0141a" stroke-width="0.2" font-size="17" text-anchor="start" textLength="73.5" lengthAdjust="spacingAndGlyphs">S0004-ND</text>
<text x="109.3" y="358.9" fill="#e0141a" stroke="#e0141a" stroke-width="0.2" font-size="17" text-anchor="start" textLength="73.5" lengthAdjust="spacingAndGlyphs">S0004-ND</text>
<text x="115.3" y="436.9" fill="#1f1f1f" stroke="#1f1f1f" stroke-width="0.2" font-size="17" text-anchor="start" textLength="45" lengthAdjust="spacingAndGlyphs">S0362</text>
<text x="208.3" y="471.9" fill="#1f1f1f" stroke="#1f1f1f" stroke-width="0.2" font-size="17" text-anchor="start" textLength="73.5" lengthAdjust="spacingAndGlyphs">P0048-ND</text>
<text x="310.3" y="463.4" fill="#1f1f1f" stroke="#1f1f1f" stroke-width="0.2" font-size="17" text-anchor="start" textLength="45" lengthAdjust="spacingAndGlyphs">S0363</text>
<text x="260.3" y="490.9" fill="#e0141a" stroke="#e0141a" stroke-width="0.2" font-size="17" text-anchor="start" textLength="73.5" lengthAdjust="spacingAndGlyphs">S0004-ND</text>
<text x="260.3" y="518.9" fill="#e0141a" stroke="#e0141a" stroke-width="0.2" font-size="17" text-anchor="start" textLength="73.5" lengthAdjust="spacingAndGlyphs">S0516-ND</text>
<text x="261.8" y="545.9" fill="#e0141a" stroke="#e0141a" stroke-width="0.2" font-size="17" text-anchor="start" textLength="73.5" lengthAdjust="spacingAndGlyphs">S0009-ND</text>
<text x="383.8" y="477.9" fill="#e0141a" stroke="#e0141a" stroke-width="0.2" font-size="17" text-anchor="start" textLength="73.5" lengthAdjust="spacingAndGlyphs">V0023-ND</text>
<text x="457.3" y="455.4" fill="#1f1f1f" stroke="#1f1f1f" stroke-width="0.2" font-size="17" text-anchor="start" textLength="45" lengthAdjust="spacingAndGlyphs">S0352</text>
<text x="511.8" y="468.4" fill="#1f1f1f" stroke="#1f1f1f" stroke-width="0.2" font-size="17" text-anchor="start" textLength="45" lengthAdjust="spacingAndGlyphs">S0322</text>
<text x="488.3" y="503.4" fill="#e0141a" stroke="#e0141a" stroke-width="0.2" font-size="17" text-anchor="start" textLength="73.5" lengthAdjust="spacingAndGlyphs">S0004-ND</text>
<text x="545.3" y="522.9" fill="#e0141a" stroke="#e0141a" stroke-width="0.2" font-size="17" text-anchor="start" textLength="73.5" lengthAdjust="spacingAndGlyphs">S0323-ND</text>
<text x="464.3" y="553.4" fill="#e0141a" stroke="#e0141a" stroke-width="0.2" font-size="17" text-anchor="start" textLength="73.5" lengthAdjust="spacingAndGlyphs">S0517-ND</text>
<text x="448.8" y="603.4" fill="#e0141a" stroke="#e0141a" stroke-width="0.2" font-size="17" text-anchor="start" textLength="73.5" lengthAdjust="spacingAndGlyphs">S0381-ND</text>
<text x="168.3" y="523.9" fill="#e0141a" stroke="#e0141a" stroke-width="0.2" font-size="17" text-anchor="start" textLength="73.5" lengthAdjust="spacingAndGlyphs">S0004-ND</text>
<text x="118.3" y="613.4" fill="#1f1f1f" stroke="#1f1f1f" stroke-width="0.2" font-size="17" text-anchor="start" textLength="45" lengthAdjust="spacingAndGlyphs">S0201</text>
<text x="524.3" y="180.4" fill="#e0141a" stroke="#e0141a" stroke-width="0.2" font-size="17" text-anchor="start" textLength="73.5" lengthAdjust="spacingAndGlyphs">P0019-ND</text>
<text x="433.3" y="191.9" fill="#e0141a" stroke="#e0141a" stroke-width="0.2" font-size="17" text-anchor="start" textLength="73.5" lengthAdjust="spacingAndGlyphs">S0014-ND</text>
<text x="434.3" y="226.9" fill="#e0141a" stroke="#e0141a" stroke-width="0.2" font-size="17" text-anchor="start" textLength="73.5" lengthAdjust="spacingAndGlyphs">S0116-ND</text>
<text x="434.3" y="258.4" fill="#e0141a" stroke="#e0141a" stroke-width="0.2" font-size="17" text-anchor="start" textLength="73.5" lengthAdjust="spacingAndGlyphs">S0090-ND</text>
<text x="438.3" y="284.9" fill="#e0141a" stroke="#e0141a" stroke-width="0.2" font-size="17" text-anchor="start" textLength="73.5" lengthAdjust="spacingAndGlyphs">S0085-ND</text>
<text x="436.8" y="310.4" fill="#e0141a" stroke="#e0141a" stroke-width="0.2" font-size="17" text-anchor="start" textLength="73.5" lengthAdjust="spacingAndGlyphs">S0323-ND</text>
<text x="428.3" y="330.9" fill="#e0141a" stroke="#e0141a" stroke-width="0.2" font-size="17" text-anchor="start" textLength="73.5" lengthAdjust="spacingAndGlyphs">S0004-ND</text>
<text x="594.8" y="321.9" fill="#1f1f1f" stroke="#1f1f1f" stroke-width="0.2" font-size="17" text-anchor="start" textLength="45" lengthAdjust="spacingAndGlyphs">S0305</text>
<text x="588.3" y="356.9" fill="#1f1f1f" stroke="#1f1f1f" stroke-width="0.2" font-size="17" text-anchor="start" textLength="45" lengthAdjust="spacingAndGlyphs">S0322</text>
<text x="689.8" y="234.9" fill="#e0141a" stroke="#e0141a" stroke-width="0.2" font-size="17" text-anchor="start" textLength="73.5" lengthAdjust="spacingAndGlyphs">S0323-ND</text>
<text x="687.3" y="302.9" fill="#e0141a" stroke="#e0141a" stroke-width="0.2" font-size="17" text-anchor="start" textLength="73.5" lengthAdjust="spacingAndGlyphs">S0004-ND</text>
<text x="579.3" y="375.9" fill="#e0141a" stroke="#e0141a" stroke-width="0.2" font-size="17" text-anchor="start" textLength="73.5" lengthAdjust="spacingAndGlyphs">S0004-ND</text>
<text x="686.3" y="463.4" fill="#e0141a" stroke="#e0141a" stroke-width="0.2" font-size="17" text-anchor="start" textLength="73.5" lengthAdjust="spacingAndGlyphs">S0009-ND</text>
<text x="631.3" y="514.9" fill="#1f1f1f" stroke="#1f1f1f" stroke-width="0.2" font-size="17" text-anchor="start" textLength="45" lengthAdjust="spacingAndGlyphs">S0521</text>
<text x="555.3" y="571.9" fill="#e0141a" stroke="#e0141a" stroke-width="0.2" font-size="17" text-anchor="start" textLength="73.5" lengthAdjust="spacingAndGlyphs">S0004-ND</text>
<text x="560.3" y="595.4" fill="#1f1f1f" stroke="#1f1f1f" stroke-width="0.2" font-size="17" text-anchor="start" textLength="45" lengthAdjust="spacingAndGlyphs">S0322</text>
<text x="493.3" y="659.9" fill="#1f1f1f" stroke="#1f1f1f" stroke-width="0.2" font-size="17" text-anchor="start" textLength="45" lengthAdjust="spacingAndGlyphs">S0313</text>
<text x="538.3" y="693.9" fill="#e0141a" stroke="#e0141a" stroke-width="0.2" font-size="17" text-anchor="start" textLength="73.5" lengthAdjust="spacingAndGlyphs">S0004-ND</text>
<text x="675.8" y="701.9" fill="#e0141a" stroke="#e0141a" stroke-width="0.2" font-size="17" text-anchor="start" textLength="73.5" lengthAdjust="spacingAndGlyphs">S0516-ND</text>
<text x="534" y="732.9" fill="#e0141a" stroke="#e0141a" stroke-width="0.2" font-size="17" text-anchor="start" textLength="73.5" lengthAdjust="spacingAndGlyphs">S0516-ND</text>
<text x="673.3" y="752.9" fill="#e0141a" stroke="#e0141a" stroke-width="0.2" font-size="17" text-anchor="start" textLength="73.5" lengthAdjust="spacingAndGlyphs">S0009-ND</text>
<text x="533.3" y="763.9" fill="#e0141a" stroke="#e0141a" stroke-width="0.2" font-size="17" text-anchor="start" textLength="73.5" lengthAdjust="spacingAndGlyphs">S0009-ND</text>
<text x="560.3" y="794.9" fill="#1f1f1f" stroke="#1f1f1f" stroke-width="0.2" font-size="17" text-anchor="start" textLength="45" lengthAdjust="spacingAndGlyphs">S0204</text>
<text x="616.8" y="35.9" fill="#e0141a" stroke="#e0141a" stroke-width="0.2" font-size="17" text-anchor="start" textLength="73.5" lengthAdjust="spacingAndGlyphs">S0384-ND</text>
<text x="588.3" y="88.4" fill="#e0141a" stroke="#e0141a" stroke-width="0.2" font-size="17" text-anchor="start" textLength="73.5" lengthAdjust="spacingAndGlyphs">S0981-ND</text>
<text x="675.3" y="88.4" fill="#e0141a" stroke="#e0141a" stroke-width="0.2" font-size="17" text-anchor="start" textLength="73.5" lengthAdjust="spacingAndGlyphs">S0316-ND</text>
<text x="576.8" y="114.9" fill="#e0141a" stroke="#e0141a" stroke-width="0.2" font-size="17" text-anchor="start" textLength="73.5" lengthAdjust="spacingAndGlyphs">S0388-ND</text>
<text x="327.5" y="566.9" fill="#1f1f1f" stroke="#1f1f1f" stroke-width="0.2" font-size="17" text-anchor="end" textLength="45" lengthAdjust="spacingAndGlyphs">S0353</text>
<text x="322.5" y="645.9" fill="#1f1f1f" stroke="#1f1f1f" stroke-width="0.2" font-size="17" text-anchor="end" textLength="45" lengthAdjust="spacingAndGlyphs">S0354</text>
<text x="324" y="619.9" fill="#e0141a" stroke="#e0141a" stroke-width="0.2" font-size="17" text-anchor="end" textLength="73.5" lengthAdjust="spacingAndGlyphs">S0355-ND</text>
<text x="642.5" y="420.4" fill="#e0141a" stroke="#e0141a" stroke-width="0.2" font-size="17" text-anchor="end" textLength="73.5" lengthAdjust="spacingAndGlyphs">S0516-ND</text>
<text x="396.8" y="491.9" fill="#e0141a" stroke="#e0141a" stroke-width="0.15" font-size="12.5" text-anchor="start" textLength="29" lengthAdjust="spacingAndGlyphs">(ø50)</text>
<text x="464.8" y="468.4" fill="#1f1f1f" stroke="#1f1f1f" stroke-width="0.15" font-size="12.5" text-anchor="start" textLength="29" lengthAdjust="spacingAndGlyphs">(ø50)</text>
<text x="483.3" y="568.4" fill="#e0141a" stroke="#e0141a" stroke-width="0.15" font-size="12.5" text-anchor="start" textLength="29" lengthAdjust="spacingAndGlyphs">(ø50)</text>
<text x="466.8" y="617.9" fill="#e0141a" stroke="#e0141a" stroke-width="0.15" font-size="12.5" text-anchor="start" textLength="29" lengthAdjust="spacingAndGlyphs">(ø40)</text>
<line x1="164.4" y1="14" x2="168.4" y2="27" stroke="#ec6640" stroke-width="1.2"/>
<line x1="145" y1="69" x2="163" y2="74" stroke="#ec6640" stroke-width="1.2"/>
<line x1="201" y1="68" x2="210" y2="82.5" stroke="#ec6640" stroke-width="1.2"/>
<line x1="152.5" y1="92" x2="172.5" y2="105" stroke="#ec6640" stroke-width="1.2"/>
<line x1="147.5" y1="247.5" x2="172.5" y2="257.5" stroke="#8c8c8c" stroke-width="1.2"/>
<line x1="311" y1="272" x2="336" y2="301" stroke="#ec6640" stroke-width="1.2"/>
<line x1="365" y1="291" x2="372.5" y2="315" stroke="#8c8c8c" stroke-width="1.2"/>
<line x1="266" y1="320" x2="294" y2="309" stroke="#ec6640" stroke-width="1.2"/>
<line x1="285" y1="334" x2="311" y2="314" stroke="#ec6640" stroke-width="1.2"/>
<line x1="312.5" y1="367.5" x2="320" y2="382.5" stroke="#ec6640" stroke-width="1.2"/>
<line x1="391" y1="369" x2="379" y2="364" stroke="#ec6640" stroke-width="1.2"/>
<line x1="407.5" y1="410" x2="381" y2="386" stroke="#ec6640" stroke-width="1.2"/>
<line x1="145" y1="360" x2="169" y2="382.5" stroke="#ec6640" stroke-width="1.2"/>
<line x1="161" y1="430" x2="175" y2="437.5" stroke="#8c8c8c" stroke-width="1.2"/>
<line x1="244" y1="457" x2="262" y2="446" stroke="#8c8c8c" stroke-width="1.2"/>
<line x1="334" y1="449" x2="364" y2="436" stroke="#8c8c8c" stroke-width="1.2"/>
<line x1="335" y1="485" x2="356" y2="482.5" stroke="#ec6640" stroke-width="1.2"/>
<line x1="335" y1="512.5" x2="357.5" y2="500" stroke="#ec6640" stroke-width="1.2"/>
<line x1="304" y1="532" x2="357.5" y2="515" stroke="#ec6640" stroke-width="1.2"/>
<line x1="410" y1="496" x2="410" y2="521" stroke="#ec6640" stroke-width="1.2"/>
<line x1="480" y1="471" x2="469" y2="501" stroke="#8c8c8c" stroke-width="1.2"/>
<line x1="536" y1="455" x2="551" y2="442.5" stroke="#8c8c8c" stroke-width="1.2"/>
<line x1="564" y1="495" x2="589" y2="462.5" stroke="#ec6640" stroke-width="1.2"/>
<line x1="585" y1="510" x2="622" y2="474" stroke="#ec6640" stroke-width="1.2"/>
<line x1="590" y1="525" x2="645" y2="545" stroke="#ec6640" stroke-width="1.2"/>
<line x1="464" y1="546" x2="444" y2="536" stroke="#ec6640" stroke-width="1.2"/>
<line x1="449.5" y1="597.5" x2="430" y2="590" stroke="#ec6640" stroke-width="1.2"/>
<line x1="210" y1="526" x2="190" y2="541" stroke="#ec6640" stroke-width="1.2"/>
<line x1="161" y1="607.5" x2="175" y2="613.5" stroke="#8c8c8c" stroke-width="1.2"/>
<line x1="557.5" y1="182" x2="563.5" y2="203" stroke="#ec6640" stroke-width="1.2"/>
<line x1="505" y1="193.5" x2="560" y2="242.5" stroke="#ec6640" stroke-width="1.2"/>
<line x1="507" y1="227.5" x2="547.5" y2="262.5" stroke="#ec6640" stroke-width="1.2"/>
<line x1="506" y1="259" x2="547.5" y2="282.5" stroke="#ec6640" stroke-width="1.2"/>
<line x1="509" y1="286" x2="547.5" y2="304.5" stroke="#ec6640" stroke-width="1.2"/>
<line x1="507.5" y1="311" x2="550.6" y2="361.7" stroke="#ec6640" stroke-width="1.2"/>
<line x1="489" y1="333" x2="552" y2="381" stroke="#ec6640" stroke-width="1.2"/>
<line x1="620" y1="324" x2="575" y2="338" stroke="#8c8c8c" stroke-width="1.2"/>
<line x1="633.5" y1="352.5" x2="661" y2="352.5" stroke="#8c8c8c" stroke-width="1.2"/>
<line x1="719" y1="238" x2="679" y2="246" stroke="#ec6640" stroke-width="1.2"/>
<line x1="719" y1="290" x2="682" y2="277" stroke="#ec6640" stroke-width="1.2"/>
<line x1="617.5" y1="377.5" x2="656" y2="406" stroke="#ec6640" stroke-width="1.2"/>
<line x1="644" y1="419" x2="655" y2="426" stroke="#ec6640" stroke-width="1.2"/>
<line x1="712.5" y1="446" x2="676" y2="440" stroke="#ec6640" stroke-width="1.2"/>
<line x1="659" y1="499" x2="664" y2="485" stroke="#8c8c8c" stroke-width="1.2"/>
<line x1="628.5" y1="566" x2="650" y2="562.5" stroke="#ec6640" stroke-width="1.2"/>
<line x1="607.5" y1="589.5" x2="652.5" y2="589.5" stroke="#8c8c8c" stroke-width="1.2"/>
<line x1="538" y1="655" x2="569" y2="645" stroke="#8c8c8c" stroke-width="1.2"/>
<line x1="612.5" y1="687" x2="642.5" y2="694" stroke="#ec6640" stroke-width="1.2"/>
<line x1="596" y1="695" x2="619" y2="712.5" stroke="#ec6640" stroke-width="1.2"/>
<line x1="676" y1="703" x2="667" y2="712.5" stroke="#ec6640" stroke-width="1.2"/>
<line x1="608" y1="728" x2="620" y2="735" stroke="#ec6640" stroke-width="1.2"/>
<line x1="684.5" y1="737" x2="667" y2="730" stroke="#ec6640" stroke-width="1.2"/>
<line x1="607" y1="754" x2="618" y2="750" stroke="#ec6640" stroke-width="1.2"/>
<line x1="604.7" y1="789" x2="624.3" y2="785.5" stroke="#8c8c8c" stroke-width="1.2"/>
<line x1="330" y1="560" x2="359" y2="554.5" stroke="#8c8c8c" stroke-width="1.2"/>
<line x1="324" y1="640" x2="347.5" y2="635" stroke="#8c8c8c" stroke-width="1.2"/>
<line x1="325" y1="612.5" x2="350" y2="605" stroke="#ec6640" stroke-width="1.2"/>
<line x1="658.5" y1="38" x2="663.5" y2="49" stroke="#ec6640" stroke-width="1.2"/>
<line x1="639" y1="92.5" x2="655" y2="97.5" stroke="#ec6640" stroke-width="1.2"/>
<line x1="697.5" y1="91" x2="701.5" y2="100" stroke="#ec6640" stroke-width="1.2"/>
<line x1="650" y1="116" x2="665" y2="125" stroke="#ec6640" stroke-width="1.2"/>
</svg></body></html>
